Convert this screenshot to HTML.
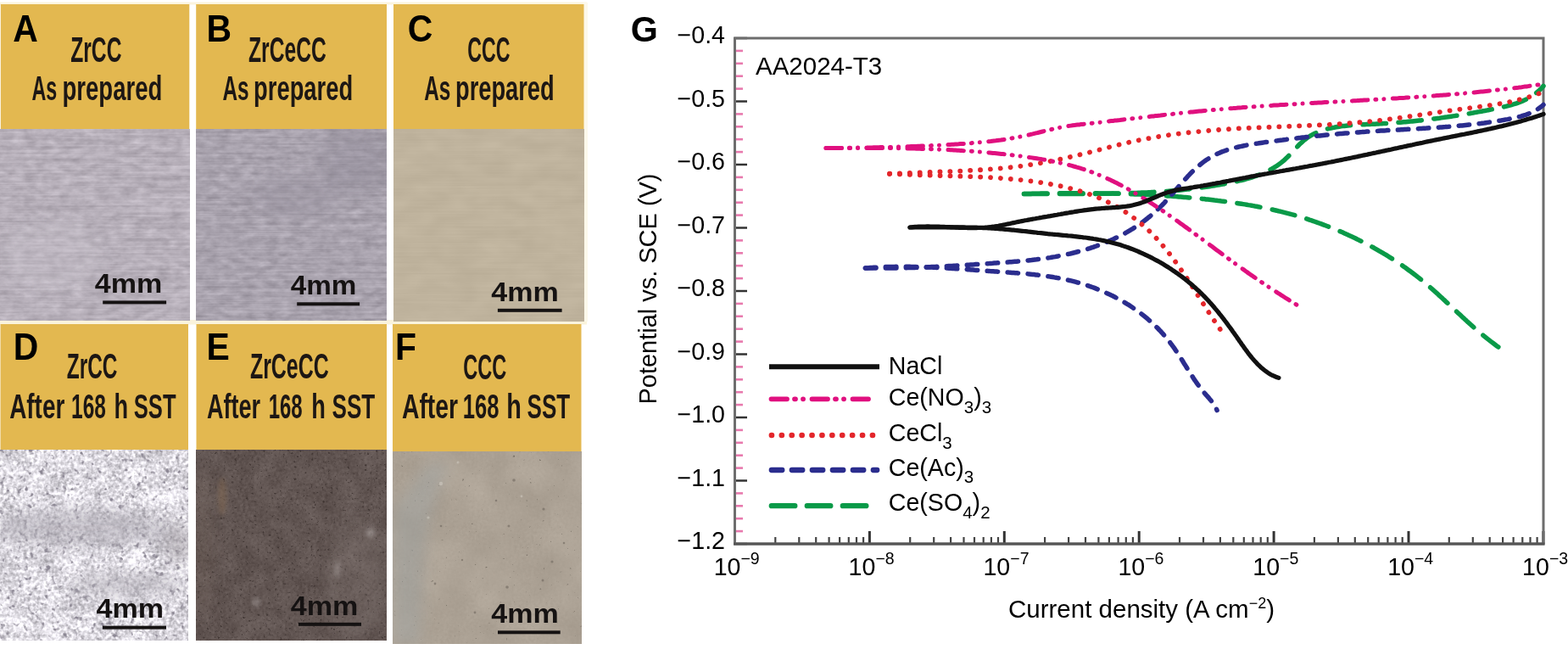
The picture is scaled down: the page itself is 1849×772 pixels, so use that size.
<!DOCTYPE html>
<html><head><meta charset="utf-8"><title>Figure</title>
<style>
html,body{margin:0;padding:0;background:#fff;}
body{width:1849px;height:772px;overflow:hidden;}
svg{display:block;}
.lbl{font-family:"Liberation Sans",Arial,sans-serif;font-weight:bold;font-size:44px;fill:#000;}
.hd{font-family:"Liberation Sans",Arial,sans-serif;font-weight:bold;font-size:41px;fill:#1d1714;stroke:#1d1714;stroke-width:0px;}
.hd1{font-size:42.5px;}
.mm{font-family:"Liberation Sans",Arial,sans-serif;font-weight:bold;font-size:32px;fill:#151212;}
.ax{font-family:"Liberation Sans",Arial,sans-serif;font-size:28.6px;fill:#000;}
.sup{font-size:19.5px;}
.ttl{font-family:"Liberation Sans",Arial,sans-serif;font-size:29.5px;fill:#000;}
.sup2{font-size:18px;}
.leg{font-family:"Liberation Sans",Arial,sans-serif;font-size:28.6px;fill:#000;}
.sub{font-size:20.5px;}
</style></head><body>
<svg width="1849" height="772" viewBox="0 0 1849 772">
<defs>
<filter id="blur8" x="-50%" y="-50%" width="200%" height="200%"><feGaussianBlur stdDeviation="8"/></filter><filter id="blur1" x="-50%" y="-50%" width="200%" height="200%"><feGaussianBlur stdDeviation="0.7"/></filter><filter id="blur3" x="-50%" y="-50%" width="200%" height="200%"><feGaussianBlur stdDeviation="2.5"/></filter>
<filter id="brushA" x="0" y="0" width="100%" height="100%" color-interpolation-filters="sRGB"><feTurbulence type="fractalNoise" baseFrequency="0.008 0.4" numOctaves="2" seed="3" result="n1"/><feTurbulence type="fractalNoise" baseFrequency="0.07 0.14" numOctaves="3" seed="4" result="n2"/><feComposite in="n1" in2="n2" operator="arithmetic" k1="0" k2="0.400" k3="0.600" k4="0"/><feColorMatrix type="matrix" values="0.300 0 0 0 0.564 0.300 0 0 0 0.536 0.300 0 0 0 0.575 0 0 0 0 1"/></filter>
<clipPath id="clipbrushA"><rect x="0.8" y="152.5" width="222.5" height="225.0"/></clipPath>
<filter id="brushB" x="0" y="0" width="100%" height="100%" color-interpolation-filters="sRGB"><feTurbulence type="fractalNoise" baseFrequency="0.008 0.4" numOctaves="2" seed="7" result="n1"/><feTurbulence type="fractalNoise" baseFrequency="0.07 0.14" numOctaves="3" seed="8" result="n2"/><feComposite in="n1" in2="n2" operator="arithmetic" k1="0" k2="0.400" k3="0.600" k4="0"/><feColorMatrix type="matrix" values="0.300 0 0 0 0.509 0.300 0 0 0 0.485 0.300 0 0 0 0.528 0 0 0 0 1"/></filter>
<clipPath id="clipbrushB"><rect x="231.2" y="152.5" width="224.8" height="225.0"/></clipPath>
<filter id="brushC" x="0" y="0" width="100%" height="100%" color-interpolation-filters="sRGB"><feTurbulence type="fractalNoise" baseFrequency="0.006 0.45" numOctaves="2" seed="11" result="n1"/><feTurbulence type="fractalNoise" baseFrequency="0.03 0.06" numOctaves="2" seed="12" result="n2"/><feComposite in="n1" in2="n2" operator="arithmetic" k1="0" k2="0.350" k3="0.650" k4="0"/><feColorMatrix type="matrix" values="0.080 0 0 0 0.709 0.080 0 0 0 0.662 0.080 0 0 0 0.576 0 0 0 0 1"/></filter>
<filter id="corrD" x="0" y="0" width="100%" height="100%" color-interpolation-filters="sRGB"><feTurbulence type="fractalNoise" baseFrequency="0.25" numOctaves="2" seed="5" result="n1"/><feTurbulence type="fractalNoise" baseFrequency="0.04" numOctaves="3" seed="6" result="n2"/><feComposite in="n1" in2="n2" operator="arithmetic" k1="0" k2="0.650" k3="0.350" k4="0"/><feColorMatrix type="matrix" values="0.850 0 0 0 0.453 0.850 0 0 0 0.442 0.850 0 0 0 0.469 0 0 0 0 1"/></filter>
<filter id="spcorrD" x="0" y="0" width="100%" height="100%" color-interpolation-filters="sRGB"><feTurbulence type="fractalNoise" baseFrequency="0.15" numOctaves="2" seed="21"/><feColorMatrix type="matrix" values="0 0 0 0 0.550 0 0 0 0 0.530 0 0 0 0 0.580 6.00 0 0 0 -3.72"/></filter>
<clipPath id="clipcorrD"><rect x="0.5" y="530.6" width="221.5" height="224.4"/></clipPath>
<filter id="corrE" x="0" y="0" width="100%" height="100%" color-interpolation-filters="sRGB"><feTurbulence type="fractalNoise" baseFrequency="0.3" numOctaves="2" seed="9" result="n1"/><feTurbulence type="fractalNoise" baseFrequency="0.04" numOctaves="3" seed="10" result="n2"/><feComposite in="n1" in2="n2" operator="arithmetic" k1="0" k2="0.500" k3="0.500" k4="0"/><feColorMatrix type="matrix" values="0.220 0 0 0 0.274 0.220 0 0 0 0.227 0.220 0 0 0 0.215 0 0 0 0 1"/></filter>
<filter id="spcorrE" x="0" y="0" width="100%" height="100%" color-interpolation-filters="sRGB"><feTurbulence type="fractalNoise" baseFrequency="0.3" numOctaves="2" seed="23"/><feColorMatrix type="matrix" values="0 0 0 0 0.250 0 0 0 0 0.210 0 0 0 0 0.200 6.00 0 0 0 -3.96"/></filter>
<clipPath id="clipcorrE"><rect x="231.5" y="530.6" width="224.5" height="224.4"/></clipPath>
<filter id="corrF" x="0" y="0" width="100%" height="100%" color-interpolation-filters="sRGB"><feTurbulence type="fractalNoise" baseFrequency="0.3" numOctaves="2" seed="13" result="n1"/><feTurbulence type="fractalNoise" baseFrequency="0.02" numOctaves="3" seed="14" result="n2"/><feComposite in="n1" in2="n2" operator="arithmetic" k1="0" k2="0.300" k3="0.700" k4="0"/><feColorMatrix type="matrix" values="0.120 0 0 0 0.615 0.120 0 0 0 0.575 0.120 0 0 0 0.524 0 0 0 0 1"/></filter>
<filter id="spcorrF" x="0" y="0" width="100%" height="100%" color-interpolation-filters="sRGB"><feTurbulence type="fractalNoise" baseFrequency="0.25" numOctaves="2" seed="25"/><feColorMatrix type="matrix" values="0 0 0 0 0.450 0 0 0 0 0.420 0 0 0 0 0.380 6.00 0 0 0 -4.56"/></filter>
<clipPath id="clipcorrF"><rect x="463.0" y="532.5" width="222.5" height="226.5"/></clipPath>
</defs>
<rect width="1849" height="772" fill="#fff"/>
<rect x="0" y="377" width="692" height="5.5" fill="#faf3dc"/>
<rect x="0" y="2.5" width="692" height="3" fill="#fbf4de"/>
<rect x="688" y="3" width="5" height="376" fill="#fcf8ea"/>
<rect x="0.8" y="5.0" width="222.5" height="147.5" fill="#e3b850"/>
<rect x="0.8" y="152.5" width="222.5" height="225.0" fill="#b6afb9" filter="url(#brushA)"/>
<g clip-path="url(#clipbrushA)"><g opacity="0.3" filter="url(#blur8)"><ellipse cx="60" cy="300" rx="60" ry="40" fill="#cdc8d0"/></g></g>
<text transform="translate(15.3,48.8) scale(0.93,1)" class="lbl">A</text>
<text x="83.2" y="72.6" class="hd hd1" textLength="60.3" lengthAdjust="spacingAndGlyphs">ZrCC</text>
<text y="118.3" class="hd"><tspan x="37.5" textLength="29.8" lengthAdjust="spacingAndGlyphs">As</tspan><tspan x="73.5" textLength="117.9" lengthAdjust="spacingAndGlyphs">prepared</tspan></text>
<text x="111.7" y="345.0" class="mm" textLength="79.5" lengthAdjust="spacingAndGlyphs">4mm</text>
<rect x="121.2" y="354.4" width="74.9" height="4" fill="#151212"/>
<rect x="231.2" y="5.0" width="224.8" height="147.5" fill="#e3b850"/>
<rect x="231.2" y="152.5" width="224.8" height="225.0" fill="#a8a2ad" filter="url(#brushB)"/>
<g clip-path="url(#clipbrushB)"><g opacity="0.35" filter="url(#blur8)"><ellipse cx="420" cy="190" rx="45" ry="40" fill="#8d8794"/><ellipse cx="350" cy="230" rx="50" ry="25" fill="#958f9c"/></g></g>
<text transform="translate(243.5,48.6) scale(0.93,1)" class="lbl">B</text>
<text x="293.0" y="72.9" class="hd hd1" textLength="91.8" lengthAdjust="spacingAndGlyphs">ZrCeCC</text>
<text y="118.3" class="hd"><tspan x="262.4" textLength="31.1" lengthAdjust="spacingAndGlyphs">As</tspan><tspan x="299.1" textLength="117.0" lengthAdjust="spacingAndGlyphs">prepared</tspan></text>
<text x="342.7" y="346.9" class="mm" textLength="77.6" lengthAdjust="spacingAndGlyphs">4mm</text>
<rect x="350.2" y="356.3" width="73.9" height="4" fill="#151212"/>
<rect x="464.0" y="5.0" width="224.5" height="147.5" fill="#e3b850"/>
<rect x="464.0" y="152.5" width="224.5" height="226.0" fill="#bfb39d" filter="url(#brushC)"/>
<text transform="translate(480.7,48.6) scale(0.93,1)" class="lbl">C</text>
<text x="551.2" y="72.9" class="hd hd1" textLength="50.4" lengthAdjust="spacingAndGlyphs">CCC</text>
<text y="118.3" class="hd"><tspan x="500.2" textLength="31.1" lengthAdjust="spacingAndGlyphs">As</tspan><tspan x="537.0" textLength="116.7" lengthAdjust="spacingAndGlyphs">prepared</tspan></text>
<text x="579.3" y="354.5" class="mm" textLength="79.5" lengthAdjust="spacingAndGlyphs">4mm</text>
<rect x="586.9" y="363.8" width="75.7" height="4" fill="#151212"/>
<rect x="0.5" y="382.0" width="221.5" height="148.6" fill="#e3b850"/>
<rect x="0.5" y="530.6" width="221.5" height="224.4" fill="#e0dde4" filter="url(#corrD)"/>
<rect x="0.5" y="530.6" width="221.5" height="224.4" fill="#000" filter="url(#spcorrD)"/>
<g clip-path="url(#clipcorrD)"><g opacity="0.55" filter="url(#blur8)"><ellipse cx="95" cy="622" rx="110" ry="22" fill="#a9a5ae"/><ellipse cx="210" cy="640" rx="16" ry="25" fill="#9f9a9f"/><ellipse cx="150" cy="690" rx="70" ry="14" fill="#b4b0b8"/></g></g>
<text transform="translate(15.8,423.7) scale(0.93,1)" class="lbl">D</text>
<text x="78.7" y="446.4" class="hd hd1" textLength="59.8" lengthAdjust="spacingAndGlyphs">ZrCC</text>
<text y="492.5" class="hd"><tspan x="11.2" textLength="65.1" lengthAdjust="spacingAndGlyphs">After</tspan><tspan x="84.0" textLength="40.9" lengthAdjust="spacingAndGlyphs">168</tspan><tspan x="134.5" textLength="16.6" lengthAdjust="spacingAndGlyphs">h</tspan><tspan x="157.8" textLength="49.7" lengthAdjust="spacingAndGlyphs">SST</tspan></text>
<text x="113.6" y="728.3" class="mm" textLength="79.5" lengthAdjust="spacingAndGlyphs">4mm</text>
<rect x="121.0" y="737.6" width="75.0" height="4" fill="#151212"/>
<rect x="231.5" y="382.0" width="224.5" height="148.6" fill="#e3b850"/>
<rect x="231.5" y="530.6" width="224.5" height="224.4" fill="#625653" filter="url(#corrE)"/>
<rect x="231.5" y="530.6" width="224.5" height="224.4" fill="#000" filter="url(#spcorrE)"/>
<g clip-path="url(#clipcorrE)"><g opacity="0.35" filter="url(#blur3)"><circle cx="437" cy="628" r="5" fill="#e8e4e4"/><circle cx="302" cy="710" r="5" fill="#d8d2d2"/><ellipse cx="398" cy="672" rx="3" ry="10" fill="#d8d2d2"/><ellipse cx="262" cy="585" rx="5" ry="22" fill="#907050"/></g><g opacity="0.25" filter="url(#blur8)"><ellipse cx="420" cy="680" rx="35" ry="70" fill="#8a807c"/><ellipse cx="240" cy="640" rx="10" ry="90" fill="#7a6a60"/></g></g>
<text transform="translate(243.5,423.7) scale(0.93,1)" class="lbl">E</text>
<text x="294.9" y="446.4" class="hd hd1" textLength="92.9" lengthAdjust="spacingAndGlyphs">ZrCeCC</text>
<text y="492.5" class="hd"><tspan x="243.9" textLength="63.2" lengthAdjust="spacingAndGlyphs">After</tspan><tspan x="316.7" textLength="40.0" lengthAdjust="spacingAndGlyphs">168</tspan><tspan x="367.3" textLength="16.6" lengthAdjust="spacingAndGlyphs">h</tspan><tspan x="391.5" textLength="50.7" lengthAdjust="spacingAndGlyphs">SST</tspan></text>
<text x="342.7" y="724.5" class="mm" textLength="79.5" lengthAdjust="spacingAndGlyphs">4mm</text>
<rect x="352.0" y="733.8" width="74.0" height="4" fill="#151212"/>
<rect x="463.0" y="382.0" width="222.5" height="150.5" fill="#e3b850"/>
<rect x="463.0" y="532.5" width="222.5" height="226.5" fill="#aca295" filter="url(#corrF)"/>
<rect x="463.0" y="532.5" width="222.5" height="226.5" fill="#000" filter="url(#spcorrF)"/>
<g clip-path="url(#clipcorrF)"><g opacity="0.45" filter="url(#blur8)"><path d="M463 760 L463 600 Q480 580 505 545 L530 545 Q505 600 500 660 L495 760Z" fill="#9ea3a3"/></g><g fill="#6b625a" opacity="0.55" filter="url(#blur1)"><circle cx="606" cy="566" r="1.8"/><circle cx="641" cy="600" r="1.6"/><circle cx="600" cy="620" r="1.5"/><circle cx="651" cy="662" r="1.6"/><circle cx="513" cy="688" r="1.4"/><circle cx="598" cy="692" r="1.8"/><circle cx="640" cy="684" r="1.5"/><circle cx="560" cy="722" r="1.4"/><circle cx="520" cy="620" r="1.3"/><circle cx="585" cy="590" r="1.3"/><circle cx="665" cy="640" r="1.3"/><circle cx="545" cy="660" r="1.2"/></g><g fill="#e8e4dc" opacity="0.35" filter="url(#blur1)"><circle cx="520" cy="570" r="2.2"/><circle cx="505" cy="610" r="1.6"/><circle cx="540" cy="545" r="1.5"/><circle cx="615" cy="585" r="1.4"/></g></g>
<text transform="translate(466.1,423.7) scale(0.93,1)" class="lbl">F</text>
<text x="546.3" y="447.0" class="hd hd1" textLength="51.1" lengthAdjust="spacingAndGlyphs">CCC</text>
<text y="492.5" class="hd"><tspan x="473.9" textLength="66.2" lengthAdjust="spacingAndGlyphs">After</tspan><tspan x="545.8" textLength="42.8" lengthAdjust="spacingAndGlyphs">168</tspan><tspan x="597.3" textLength="17.6" lengthAdjust="spacingAndGlyphs">h</tspan><tspan x="621.6" textLength="50.6" lengthAdjust="spacingAndGlyphs">SST</tspan></text>
<text x="579.3" y="734.0" class="mm" textLength="79.5" lengthAdjust="spacingAndGlyphs">4mm</text>
<rect x="587.0" y="743.3" width="73.7" height="4" fill="#151212"/>
<line x1="866" y1="59.9" x2="876" y2="59.9" stroke="#e87aae" stroke-width="2.6"/>
<line x1="866" y1="74.8" x2="876" y2="74.8" stroke="#e87aae" stroke-width="2.6"/>
<line x1="866" y1="89.7" x2="876" y2="89.7" stroke="#e87aae" stroke-width="2.6"/>
<line x1="866" y1="104.6" x2="876" y2="104.6" stroke="#e87aae" stroke-width="2.6"/>
<line x1="866" y1="134.4" x2="876" y2="134.4" stroke="#e87aae" stroke-width="2.6"/>
<line x1="866" y1="149.3" x2="876" y2="149.3" stroke="#e87aae" stroke-width="2.6"/>
<line x1="866" y1="164.2" x2="876" y2="164.2" stroke="#e87aae" stroke-width="2.6"/>
<line x1="866" y1="179.1" x2="876" y2="179.1" stroke="#e87aae" stroke-width="2.6"/>
<line x1="866" y1="208.9" x2="876" y2="208.9" stroke="#e87aae" stroke-width="2.6"/>
<line x1="866" y1="223.8" x2="876" y2="223.8" stroke="#e87aae" stroke-width="2.6"/>
<line x1="866" y1="238.7" x2="876" y2="238.7" stroke="#e87aae" stroke-width="2.6"/>
<line x1="866" y1="253.6" x2="876" y2="253.6" stroke="#e87aae" stroke-width="2.6"/>
<line x1="866" y1="283.4" x2="876" y2="283.4" stroke="#e87aae" stroke-width="2.6"/>
<line x1="866" y1="298.3" x2="876" y2="298.3" stroke="#e87aae" stroke-width="2.6"/>
<line x1="866" y1="313.2" x2="876" y2="313.2" stroke="#e87aae" stroke-width="2.6"/>
<line x1="866" y1="328.1" x2="876" y2="328.1" stroke="#e87aae" stroke-width="2.6"/>
<line x1="866" y1="357.9" x2="876" y2="357.9" stroke="#e87aae" stroke-width="2.6"/>
<line x1="866" y1="372.8" x2="876" y2="372.8" stroke="#e87aae" stroke-width="2.6"/>
<line x1="866" y1="387.7" x2="876" y2="387.7" stroke="#e87aae" stroke-width="2.6"/>
<line x1="866" y1="402.6" x2="876" y2="402.6" stroke="#e87aae" stroke-width="2.6"/>
<line x1="866" y1="432.4" x2="876" y2="432.4" stroke="#e87aae" stroke-width="2.6"/>
<line x1="866" y1="447.3" x2="876" y2="447.3" stroke="#e87aae" stroke-width="2.6"/>
<line x1="866" y1="462.2" x2="876" y2="462.2" stroke="#e87aae" stroke-width="2.6"/>
<line x1="866" y1="477.1" x2="876" y2="477.1" stroke="#e87aae" stroke-width="2.6"/>
<line x1="866" y1="506.9" x2="876" y2="506.9" stroke="#e87aae" stroke-width="2.6"/>
<line x1="866" y1="521.8" x2="876" y2="521.8" stroke="#e87aae" stroke-width="2.6"/>
<line x1="866" y1="536.7" x2="876" y2="536.7" stroke="#e87aae" stroke-width="2.6"/>
<line x1="866" y1="551.6" x2="876" y2="551.6" stroke="#e87aae" stroke-width="2.6"/>
<line x1="866" y1="581.4" x2="876" y2="581.4" stroke="#e87aae" stroke-width="2.6"/>
<line x1="866" y1="596.3" x2="876" y2="596.3" stroke="#e87aae" stroke-width="2.6"/>
<line x1="866" y1="611.2" x2="876" y2="611.2" stroke="#e87aae" stroke-width="2.6"/>
<line x1="866" y1="626.1" x2="876" y2="626.1" stroke="#e87aae" stroke-width="2.6"/>
<line x1="866" y1="45.0" x2="881" y2="45.0" stroke="#333" stroke-width="2.5"/>
<line x1="866" y1="119.5" x2="881" y2="119.5" stroke="#333" stroke-width="2.5"/>
<line x1="866" y1="194.0" x2="881" y2="194.0" stroke="#333" stroke-width="2.5"/>
<line x1="866" y1="268.5" x2="881" y2="268.5" stroke="#333" stroke-width="2.5"/>
<line x1="866" y1="343.0" x2="881" y2="343.0" stroke="#333" stroke-width="2.5"/>
<line x1="866" y1="417.5" x2="881" y2="417.5" stroke="#333" stroke-width="2.5"/>
<line x1="866" y1="492.0" x2="881" y2="492.0" stroke="#333" stroke-width="2.5"/>
<line x1="866" y1="566.5" x2="881" y2="566.5" stroke="#333" stroke-width="2.5"/>
<line x1="866" y1="641.0" x2="881" y2="641.0" stroke="#333" stroke-width="2.5"/>
<line x1="914.3" y1="633" x2="914.3" y2="641" stroke="#444" stroke-width="2.2"/>
<line x1="942.3" y1="633" x2="942.3" y2="641" stroke="#444" stroke-width="2.2"/>
<line x1="962.2" y1="633" x2="962.2" y2="641" stroke="#444" stroke-width="2.2"/>
<line x1="977.6" y1="633" x2="977.6" y2="641" stroke="#444" stroke-width="2.2"/>
<line x1="990.1" y1="633" x2="990.1" y2="641" stroke="#444" stroke-width="2.2"/>
<line x1="1000.8" y1="633" x2="1000.8" y2="641" stroke="#444" stroke-width="2.2"/>
<line x1="1010.0" y1="633" x2="1010.0" y2="641" stroke="#444" stroke-width="2.2"/>
<line x1="1018.1" y1="633" x2="1018.1" y2="641" stroke="#444" stroke-width="2.2"/>
<line x1="1073.2" y1="633" x2="1073.2" y2="641" stroke="#444" stroke-width="2.2"/>
<line x1="1101.2" y1="633" x2="1101.2" y2="641" stroke="#444" stroke-width="2.2"/>
<line x1="1121.1" y1="633" x2="1121.1" y2="641" stroke="#444" stroke-width="2.2"/>
<line x1="1136.5" y1="633" x2="1136.5" y2="641" stroke="#444" stroke-width="2.2"/>
<line x1="1149.0" y1="633" x2="1149.0" y2="641" stroke="#444" stroke-width="2.2"/>
<line x1="1159.7" y1="633" x2="1159.7" y2="641" stroke="#444" stroke-width="2.2"/>
<line x1="1168.9" y1="633" x2="1168.9" y2="641" stroke="#444" stroke-width="2.2"/>
<line x1="1177.0" y1="633" x2="1177.0" y2="641" stroke="#444" stroke-width="2.2"/>
<line x1="1232.1" y1="633" x2="1232.1" y2="641" stroke="#444" stroke-width="2.2"/>
<line x1="1260.1" y1="633" x2="1260.1" y2="641" stroke="#444" stroke-width="2.2"/>
<line x1="1280.0" y1="633" x2="1280.0" y2="641" stroke="#444" stroke-width="2.2"/>
<line x1="1295.4" y1="633" x2="1295.4" y2="641" stroke="#444" stroke-width="2.2"/>
<line x1="1307.9" y1="633" x2="1307.9" y2="641" stroke="#444" stroke-width="2.2"/>
<line x1="1318.6" y1="633" x2="1318.6" y2="641" stroke="#444" stroke-width="2.2"/>
<line x1="1327.8" y1="633" x2="1327.8" y2="641" stroke="#444" stroke-width="2.2"/>
<line x1="1335.9" y1="633" x2="1335.9" y2="641" stroke="#444" stroke-width="2.2"/>
<line x1="1391.0" y1="633" x2="1391.0" y2="641" stroke="#444" stroke-width="2.2"/>
<line x1="1419.0" y1="633" x2="1419.0" y2="641" stroke="#444" stroke-width="2.2"/>
<line x1="1438.9" y1="633" x2="1438.9" y2="641" stroke="#444" stroke-width="2.2"/>
<line x1="1454.3" y1="633" x2="1454.3" y2="641" stroke="#444" stroke-width="2.2"/>
<line x1="1466.8" y1="633" x2="1466.8" y2="641" stroke="#444" stroke-width="2.2"/>
<line x1="1477.5" y1="633" x2="1477.5" y2="641" stroke="#444" stroke-width="2.2"/>
<line x1="1486.7" y1="633" x2="1486.7" y2="641" stroke="#444" stroke-width="2.2"/>
<line x1="1494.8" y1="633" x2="1494.8" y2="641" stroke="#444" stroke-width="2.2"/>
<line x1="1549.9" y1="633" x2="1549.9" y2="641" stroke="#444" stroke-width="2.2"/>
<line x1="1577.9" y1="633" x2="1577.9" y2="641" stroke="#444" stroke-width="2.2"/>
<line x1="1597.8" y1="633" x2="1597.8" y2="641" stroke="#444" stroke-width="2.2"/>
<line x1="1613.2" y1="633" x2="1613.2" y2="641" stroke="#444" stroke-width="2.2"/>
<line x1="1625.7" y1="633" x2="1625.7" y2="641" stroke="#444" stroke-width="2.2"/>
<line x1="1636.4" y1="633" x2="1636.4" y2="641" stroke="#444" stroke-width="2.2"/>
<line x1="1645.6" y1="633" x2="1645.6" y2="641" stroke="#444" stroke-width="2.2"/>
<line x1="1653.7" y1="633" x2="1653.7" y2="641" stroke="#444" stroke-width="2.2"/>
<line x1="1708.8" y1="633" x2="1708.8" y2="641" stroke="#444" stroke-width="2.2"/>
<line x1="1736.8" y1="633" x2="1736.8" y2="641" stroke="#444" stroke-width="2.2"/>
<line x1="1756.7" y1="633" x2="1756.7" y2="641" stroke="#444" stroke-width="2.2"/>
<line x1="1772.1" y1="633" x2="1772.1" y2="641" stroke="#444" stroke-width="2.2"/>
<line x1="1784.6" y1="633" x2="1784.6" y2="641" stroke="#444" stroke-width="2.2"/>
<line x1="1795.3" y1="633" x2="1795.3" y2="641" stroke="#444" stroke-width="2.2"/>
<line x1="1804.5" y1="633" x2="1804.5" y2="641" stroke="#444" stroke-width="2.2"/>
<line x1="1812.6" y1="633" x2="1812.6" y2="641" stroke="#444" stroke-width="2.2"/>
<line x1="866.5" y1="626" x2="866.5" y2="641" stroke="#333" stroke-width="3"/>
<line x1="1025.4" y1="626" x2="1025.4" y2="641" stroke="#333" stroke-width="3"/>
<line x1="1184.3" y1="626" x2="1184.3" y2="641" stroke="#333" stroke-width="3"/>
<line x1="1343.2" y1="626" x2="1343.2" y2="641" stroke="#333" stroke-width="3"/>
<line x1="1502.1" y1="626" x2="1502.1" y2="641" stroke="#333" stroke-width="3"/>
<line x1="1661.0" y1="626" x2="1661.0" y2="641" stroke="#333" stroke-width="3"/>
<line x1="1819.9" y1="626" x2="1819.9" y2="641" stroke="#333" stroke-width="3"/>
<rect x="866.5" y="45.0" width="953.5" height="596.0" fill="none" stroke="#6d6d6d" stroke-width="3"/>
<line x1="865.0" y1="641.0" x2="1821.5" y2="641.0" stroke="#555" stroke-width="3"/>
<text x="855" y="51.0" text-anchor="end" class="ax">−0.4</text>
<text x="855" y="125.5" text-anchor="end" class="ax">−0.5</text>
<text x="855" y="200.0" text-anchor="end" class="ax">−0.6</text>
<text x="855" y="274.5" text-anchor="end" class="ax">−0.7</text>
<text x="855" y="349.0" text-anchor="end" class="ax">−0.8</text>
<text x="855" y="423.5" text-anchor="end" class="ax">−0.9</text>
<text x="855" y="498.0" text-anchor="end" class="ax">−1.0</text>
<text x="855" y="572.5" text-anchor="end" class="ax">−1.1</text>
<text x="855" y="647.0" text-anchor="end" class="ax">−1.2</text>
<text x="868.7" y="678" text-anchor="middle" class="ax">10<tspan class="sup" dy="-13">−9</tspan></text>
<text x="1027.6" y="678" text-anchor="middle" class="ax">10<tspan class="sup" dy="-13">−8</tspan></text>
<text x="1186.5" y="678" text-anchor="middle" class="ax">10<tspan class="sup" dy="-13">−7</tspan></text>
<text x="1345.4" y="678" text-anchor="middle" class="ax">10<tspan class="sup" dy="-13">−6</tspan></text>
<text x="1504.3" y="678" text-anchor="middle" class="ax">10<tspan class="sup" dy="-13">−5</tspan></text>
<text x="1663.2" y="678" text-anchor="middle" class="ax">10<tspan class="sup" dy="-13">−4</tspan></text>
<text x="1822.1" y="678" text-anchor="middle" class="ax">10<tspan class="sup" dy="-13">−3</tspan></text>
<text x="1189" y="727.7" class="ttl">Current density (A cm<tspan class="sup2" dy="-11">−2</tspan><tspan dy="11">)</tspan></text>
<text transform="translate(774,476.5) rotate(-90)" x="0" y="0" class="ttl" textLength="272" lengthAdjust="spacingAndGlyphs">Potential vs. SCE (V)</text>
<text transform="translate(743.8,49.2) scale(0.96,1)" class="lbl" style="font-size:43px">G</text>
<text x="891" y="88" class="ttl">AA2024-T3</text>
<path d="M1207.5 228.5 L1209.5 228.5 L1211.5 228.5 L1213.5 228.5 L1215.6 228.5 L1217.6 228.4 L1219.6 228.4 L1221.6 228.4 L1223.6 228.4 L1225.6 228.4 L1227.6 228.4 L1229.6 228.4 L1231.6 228.4 L1233.7 228.4 L1235.7 228.4 L1237.7 228.4 L1239.7 228.4 L1241.7 228.4 L1243.7 228.4 L1245.7 228.4 L1247.7 228.4 L1249.7 228.4 L1251.8 228.4 L1253.8 228.4 L1255.8 228.4 L1257.8 228.4 L1259.8 228.4 L1261.8 228.4 L1263.8 228.4 L1265.8 228.4 L1267.8 228.4 L1269.8 228.4 L1271.9 228.4 L1273.9 228.4 L1275.9 228.4 L1277.9 228.4 L1279.9 228.4 L1281.9 228.4 L1283.9 228.4 L1285.9 228.4 L1287.9 228.4 L1290.0 228.4 L1292.0 228.4 L1294.0 228.3 L1296.0 228.3 L1298.0 228.3 L1300.0 228.3 L1302.0 228.3 L1304.0 228.2 L1306.0 228.2 L1308.0 228.2 L1310.1 228.2 L1312.1 228.1 L1314.1 228.1 L1316.1 228.1 L1318.1 228.0 L1320.1 228.0 L1322.1 227.9 L1324.1 227.9 L1326.1 227.8 L1328.2 227.8 L1330.2 227.7 L1332.2 227.7 L1334.2 227.6 L1336.2 227.5 L1338.2 227.5 L1340.2 227.4 L1342.2 227.3 L1344.2 227.2 L1346.2 227.1 L1348.2 227.1 L1350.3 227.0 L1352.3 226.9 L1354.3 226.8 L1356.3 226.7 L1358.3 226.5 L1360.3 226.4 L1362.3 226.3 L1364.3 226.2 L1366.3 226.1 L1368.3 225.9 L1370.3 225.8 L1372.3 225.7 L1374.3 225.5 L1376.3 225.4 L1378.3 225.2 L1380.4 225.0 L1382.4 224.9 L1384.4 224.7 L1386.4 224.5 L1388.4 224.3 L1390.4 224.2 L1392.4 224.0 L1394.4 223.8 L1396.4 223.6 L1398.4 223.3 L1400.4 223.1 L1402.4 222.9 L1404.4 222.7 L1406.4 222.4 L1408.4 222.2 L1410.3 221.9 L1412.3 221.7 L1414.3 221.4 L1416.3 221.2 L1418.3 220.9 L1420.3 220.6 L1422.3 220.3 L1424.3 220.0 L1426.3 219.7 L1428.3 219.4 L1430.3 219.1 L1432.2 218.8 L1434.2 218.4 L1436.2 218.1 L1438.2 217.7 L1440.2 217.4 L1442.1 217.0 L1444.1 216.7 L1446.1 216.3 L1448.1 215.9 L1450.0 215.5 L1452.0 215.1 L1454.0 214.7 L1455.9 214.3 L1457.9 213.8 L1459.9 213.4 L1461.8 212.9 L1463.8 212.5 L1465.7 212.0 L1467.7 211.5 L1469.6 210.9 L1471.6 210.4 L1473.5 209.8 L1475.4 209.3 L1477.3 208.7 L1479.2 208.0 L1481.1 207.4 L1483.0 206.7 L1484.9 206.0 L1486.8 205.2 L1488.6 204.5 L1490.5 203.7 L1492.3 202.8 L1494.1 202.0 L1495.9 201.1 L1497.7 200.2 L1499.5 199.2 L1501.2 198.2 L1502.9 197.1 L1504.6 196.1 L1506.3 195.0 L1508.0 193.8 L1509.6 192.6 L1511.2 191.4 L1512.7 190.1 L1514.3 188.8 L1515.7 187.5 L1517.2 186.1 L1518.6 184.7 L1520.1 183.2 L1521.5 181.8 L1522.8 180.3 L1524.2 178.9 L1525.6 177.4 L1526.9 175.9 L1528.3 174.4 L1529.7 173.0 L1531.1 171.5 L1532.5 170.1 L1534.0 168.7 L1535.4 167.4 L1536.9 166.0 L1538.5 164.7 L1540.1 163.5 L1541.7 162.3 L1543.4 161.2 L1545.1 160.1 L1546.8 159.1 L1548.6 158.2 L1550.4 157.3 L1552.2 156.5 L1554.1 155.7 L1556.0 154.9 L1557.8 154.3 L1559.7 153.6 L1561.7 153.0 L1563.6 152.4 L1565.5 151.9 L1567.5 151.4 L1569.4 151.0 L1571.4 150.5 L1573.4 150.2 L1575.4 149.8 L1577.3 149.5 L1579.3 149.2 L1581.3 148.9 L1583.3 148.6 L1585.3 148.4 L1587.3 148.2 L1589.3 148.0 L1591.3 147.8 L1593.3 147.6 L1595.3 147.5 L1597.3 147.3 L1599.3 147.2 L1601.3 147.1 L1603.3 147.0 L1605.4 146.9 L1607.4 146.8 L1609.4 146.7 L1611.4 146.6 L1613.4 146.5 L1615.4 146.4 L1617.4 146.3 L1619.4 146.3 L1621.4 146.2 L1623.4 146.1 L1625.4 146.0 L1627.4 145.8 L1629.5 145.7 L1631.5 145.6 L1633.5 145.5 L1635.5 145.4 L1637.5 145.2 L1639.5 145.1 L1641.5 145.0 L1643.5 144.8 L1645.5 144.7 L1647.5 144.5 L1649.5 144.3 L1651.5 144.2 L1653.5 144.0 L1655.5 143.8 L1657.5 143.7 L1659.5 143.5 L1661.5 143.3 L1663.5 143.1 L1665.5 142.9 L1667.5 142.7 L1669.5 142.5 L1671.5 142.3 L1673.5 142.1 L1675.5 141.9 L1677.5 141.6 L1679.5 141.4 L1681.5 141.2 L1683.5 140.9 L1685.5 140.7 L1687.5 140.5 L1689.5 140.2 L1691.5 140.0 L1693.5 139.7 L1695.5 139.4 L1697.5 139.2 L1699.5 138.9 L1701.5 138.6 L1703.5 138.3 L1705.5 138.1 L1707.4 137.8 L1709.4 137.5 L1711.4 137.2 L1713.4 136.9 L1715.4 136.6 L1717.4 136.3 L1719.4 136.0 L1721.4 135.6 L1723.3 135.3 L1725.3 135.0 L1727.3 134.7 L1729.3 134.3 L1731.3 134.0 L1733.3 133.7 L1735.2 133.3 L1737.2 133.0 L1739.2 132.6 L1741.2 132.3 L1743.2 131.9 L1745.1 131.6 L1747.1 131.2 L1749.1 130.8 L1751.1 130.5 L1753.0 130.1 L1755.0 129.7 L1757.0 129.3 L1759.0 128.9 L1760.9 128.6 L1762.9 128.2 L1764.9 127.8 L1766.9 127.4 L1768.8 126.9 L1770.8 126.5 L1772.7 126.1 L1774.7 125.6 L1776.7 125.1 L1778.6 124.6 L1780.5 124.1 L1782.5 123.6 L1784.4 123.0 L1786.3 122.4 L1788.2 121.8 L1790.1 121.1 L1792.0 120.4 L1793.9 119.7 L1795.7 118.9 L1797.6 118.1 L1799.4 117.2 L1801.2 116.3 L1803.0 115.3 L1804.7 114.3 L1806.4 113.3 L1808.1 112.2 L1809.7 111.0 L1811.3 109.8 L1812.9 108.5 L1814.4 107.2 L1815.9 105.8 L1817.3 104.4 L1818.7 102.9 L1820.0 101.4" fill="none" stroke="#0a9a48" stroke-width="5.5" stroke-linecap="round" stroke-dasharray="27.5 14.5"/>
<path d="M1207.5 228.6 L1209.5 228.5 L1211.5 228.5 L1213.5 228.4 L1215.5 228.4 L1217.5 228.3 L1219.6 228.3 L1221.6 228.3 L1223.6 228.2 L1225.6 228.2 L1227.6 228.1 L1229.6 228.1 L1231.6 228.1 L1233.6 228.0 L1235.6 228.0 L1237.6 228.0 L1239.6 228.0 L1241.6 227.9 L1243.7 227.9 L1245.7 227.9 L1247.7 227.9 L1249.7 227.8 L1251.7 227.8 L1253.7 227.8 L1255.7 227.8 L1257.7 227.8 L1259.7 227.8 L1261.7 227.7 L1263.7 227.7 L1265.7 227.7 L1267.8 227.7 L1269.8 227.7 L1271.8 227.7 L1273.8 227.7 L1275.8 227.7 L1277.8 227.7 L1279.8 227.7 L1281.8 227.7 L1283.8 227.8 L1285.8 227.8 L1287.8 227.8 L1289.9 227.8 L1291.9 227.8 L1293.9 227.8 L1295.9 227.9 L1297.9 227.9 L1299.9 227.9 L1301.9 227.9 L1303.9 228.0 L1305.9 228.0 L1307.9 228.0 L1309.9 228.1 L1311.9 228.1 L1314.0 228.2 L1316.0 228.2 L1318.0 228.3 L1320.0 228.3 L1322.0 228.4 L1324.0 228.4 L1326.0 228.5 L1328.0 228.5 L1330.0 228.6 L1332.0 228.7 L1334.0 228.7 L1336.0 228.8 L1338.1 228.9 L1340.1 229.0 L1342.1 229.1 L1344.1 229.1 L1346.1 229.2 L1348.1 229.3 L1350.1 229.4 L1352.1 229.5 L1354.1 229.6 L1356.1 229.7 L1358.1 229.8 L1360.1 229.9 L1362.1 230.0 L1364.1 230.1 L1366.1 230.2 L1368.1 230.4 L1370.2 230.5 L1372.2 230.6 L1374.2 230.7 L1376.2 230.9 L1378.2 231.0 L1380.2 231.1 L1382.2 231.3 L1384.2 231.4 L1386.2 231.6 L1388.2 231.7 L1390.2 231.9 L1392.2 232.0 L1394.2 232.2 L1396.2 232.4 L1398.2 232.5 L1400.2 232.7 L1402.2 232.9 L1404.2 233.1 L1406.2 233.3 L1408.2 233.4 L1410.2 233.6 L1412.2 233.8 L1414.2 234.0 L1416.2 234.2 L1418.2 234.4 L1420.2 234.6 L1422.2 234.9 L1424.2 235.1 L1426.2 235.3 L1428.2 235.5 L1430.2 235.7 L1432.2 236.0 L1434.2 236.2 L1436.2 236.5 L1438.2 236.7 L1440.1 237.0 L1442.1 237.2 L1444.1 237.5 L1446.1 237.7 L1448.1 238.0 L1450.1 238.3 L1452.1 238.5 L1454.1 238.8 L1456.1 239.1 L1458.1 239.4 L1460.1 239.7 L1462.0 240.0 L1464.0 240.3 L1466.0 240.6 L1468.0 240.9 L1470.0 241.2 L1472.0 241.6 L1473.9 241.9 L1475.9 242.2 L1477.9 242.6 L1479.9 243.0 L1481.8 243.3 L1483.8 243.7 L1485.8 244.1 L1487.8 244.4 L1489.7 244.8 L1491.7 245.2 L1493.7 245.6 L1495.6 246.0 L1497.6 246.5 L1499.6 246.9 L1501.5 247.3 L1503.5 247.8 L1505.4 248.2 L1507.4 248.7 L1509.4 249.1 L1511.3 249.6 L1513.3 250.1 L1515.2 250.6 L1517.1 251.1 L1519.1 251.6 L1521.0 252.1 L1523.0 252.7 L1524.9 253.2 L1526.8 253.7 L1528.8 254.3 L1530.7 254.9 L1532.6 255.4 L1534.5 256.0 L1536.5 256.6 L1538.4 257.2 L1540.3 257.8 L1542.2 258.4 L1544.1 259.1 L1546.0 259.7 L1547.9 260.3 L1549.8 261.0 L1551.7 261.7 L1553.6 262.3 L1555.5 263.0 L1557.4 263.7 L1559.3 264.4 L1561.2 265.1 L1563.0 265.8 L1564.9 266.5 L1566.8 267.2 L1568.7 268.0 L1570.5 268.7 L1572.4 269.5 L1574.3 270.2 L1576.1 271.0 L1578.0 271.7 L1579.8 272.5 L1581.7 273.3 L1583.5 274.1 L1585.3 274.9 L1587.2 275.7 L1589.0 276.6 L1590.8 277.4 L1592.7 278.2 L1594.5 279.1 L1596.3 279.9 L1598.1 280.8 L1599.9 281.7 L1601.7 282.6 L1603.5 283.5 L1605.3 284.3 L1607.1 285.3 L1608.9 286.2 L1610.7 287.1 L1612.5 288.0 L1614.2 289.0 L1616.0 289.9 L1617.8 290.9 L1619.5 291.8 L1621.3 292.8 L1623.1 293.8 L1624.8 294.8 L1626.5 295.8 L1628.3 296.8 L1630.0 297.8 L1631.7 298.9 L1633.5 299.9 L1635.2 300.9 L1636.9 302.0 L1638.6 303.1 L1640.3 304.1 L1642.0 305.2 L1643.7 306.3 L1645.3 307.4 L1647.0 308.5 L1648.7 309.6 L1650.4 310.7 L1652.0 311.9 L1653.7 313.0 L1655.3 314.2 L1657.0 315.3 L1658.6 316.5 L1660.2 317.7 L1661.8 318.9 L1663.5 320.0 L1665.1 321.3 L1666.7 322.5 L1668.3 323.7 L1669.8 324.9 L1671.4 326.2 L1673.0 327.4 L1674.6 328.7 L1676.1 329.9 L1677.7 331.2 L1679.2 332.5 L1680.8 333.8 L1682.3 335.1 L1683.8 336.4 L1685.3 337.7 L1686.9 339.0 L1688.4 340.3 L1689.9 341.7 L1691.4 343.0 L1692.9 344.3 L1694.4 345.7 L1695.9 347.0 L1697.3 348.4 L1698.8 349.7 L1700.3 351.1 L1701.8 352.5 L1703.3 353.8 L1704.7 355.2 L1706.2 356.6 L1707.7 357.9 L1709.1 359.3 L1710.6 360.7 L1712.1 362.0 L1713.5 363.4 L1715.0 364.8 L1716.5 366.2 L1717.9 367.5 L1719.4 368.9 L1720.9 370.3 L1722.3 371.6 L1723.8 373.0 L1725.3 374.4 L1726.8 375.7 L1728.2 377.1 L1729.7 378.5 L1731.2 379.8 L1732.7 381.2 L1734.2 382.5 L1735.7 383.8 L1737.2 385.2 L1738.7 386.5 L1740.2 387.8 L1741.7 389.1 L1743.3 390.4 L1744.8 391.7 L1746.3 393.0 L1747.9 394.3 L1749.4 395.6 L1751.0 396.9 L1752.5 398.1 L1754.1 399.4 L1755.7 400.6 L1757.3 401.9 L1758.9 403.1 L1760.5 404.3 L1762.1 405.5 L1763.7 406.7 L1765.3 407.9 L1766.9 409.0" fill="none" stroke="#0a9a48" stroke-width="5.5" stroke-linecap="round" stroke-dasharray="27.5 14.5"/>

<path d="M1020.4 315.9 L1022.4 315.9 L1024.4 315.9 L1026.4 316.0 L1028.4 316.0 L1030.4 316.0 L1032.4 316.0 L1034.4 316.0 L1036.4 316.0 L1038.4 316.0 L1040.4 316.0 L1042.4 316.0 L1044.4 316.0 L1046.4 316.0 L1048.5 316.0 L1050.5 316.0 L1052.5 316.0 L1054.5 315.9 L1056.5 315.9 L1058.5 315.9 L1060.5 315.8 L1062.5 315.8 L1064.5 315.8 L1066.5 315.7 L1068.5 315.7 L1070.5 315.6 L1072.5 315.6 L1074.5 315.5 L1076.5 315.4 L1078.5 315.4 L1080.5 315.3 L1082.5 315.2 L1084.5 315.2 L1086.5 315.1 L1088.5 315.0 L1090.5 314.9 L1092.5 314.9 L1094.5 314.8 L1096.5 314.7 L1098.6 314.6 L1100.6 314.5 L1102.6 314.4 L1104.6 314.3 L1106.6 314.2 L1108.6 314.1 L1110.6 314.0 L1112.6 313.9 L1114.6 313.8 L1116.6 313.7 L1118.6 313.6 L1120.6 313.5 L1122.6 313.4 L1124.6 313.3 L1126.6 313.2 L1128.6 313.0 L1130.6 312.9 L1132.6 312.8 L1134.6 312.7 L1136.6 312.5 L1138.6 312.4 L1140.6 312.3 L1142.6 312.2 L1144.6 312.0 L1146.6 311.9 L1148.6 311.8 L1150.6 311.6 L1152.6 311.5 L1154.6 311.4 L1156.6 311.2 L1158.6 311.1 L1160.6 311.0 L1162.6 310.8 L1164.6 310.7 L1166.6 310.6 L1168.6 310.4 L1170.6 310.3 L1172.6 310.1 L1174.6 310.0 L1176.6 309.8 L1178.6 309.7 L1180.6 309.6 L1182.6 309.4 L1184.6 309.3 L1186.6 309.1 L1188.6 309.0 L1190.6 308.8 L1192.6 308.7 L1194.6 308.5 L1196.6 308.3 L1198.6 308.2 L1200.6 308.0 L1202.6 307.8 L1204.6 307.6 L1206.6 307.5 L1208.6 307.3 L1210.6 307.1 L1212.6 306.9 L1214.6 306.7 L1216.6 306.5 L1218.5 306.2 L1220.5 306.0 L1222.5 305.8 L1224.5 305.5 L1226.5 305.3 L1228.5 305.0 L1230.5 304.7 L1232.5 304.5 L1234.4 304.2 L1236.4 303.9 L1238.4 303.6 L1240.4 303.2 L1242.4 302.9 L1244.3 302.6 L1246.3 302.2 L1248.3 301.8 L1250.3 301.5 L1252.2 301.1 L1254.2 300.7 L1256.2 300.3 L1258.1 299.8 L1260.1 299.4 L1262.0 299.0 L1264.0 298.5 L1265.9 298.0 L1267.9 297.5 L1269.8 297.0 L1271.7 296.5 L1273.7 296.0 L1275.6 295.5 L1277.5 294.9 L1279.5 294.3 L1281.4 293.8 L1283.3 293.2 L1285.2 292.6 L1287.1 291.9 L1289.0 291.3 L1290.9 290.6 L1292.8 290.0 L1294.7 289.3 L1296.6 288.6 L1298.4 287.9 L1300.3 287.2 L1302.2 286.4 L1304.0 285.7 L1305.9 284.9 L1307.7 284.1 L1309.6 283.3 L1311.4 282.5 L1313.2 281.7 L1315.0 280.8 L1316.8 279.9 L1318.6 279.1 L1320.4 278.2 L1322.2 277.2 L1324.0 276.3 L1325.8 275.4 L1327.5 274.4 L1329.3 273.4 L1331.0 272.4 L1332.7 271.4 L1334.4 270.3 L1336.1 269.3 L1337.8 268.2 L1339.5 267.1 L1341.2 266.0 L1342.9 264.9 L1344.5 263.8 L1346.1 262.6 L1347.8 261.4 L1349.4 260.2 L1351.0 259.0 L1352.6 257.8 L1354.1 256.5 L1355.7 255.3 L1357.2 254.0 L1358.7 252.7 L1360.3 251.4 L1361.8 250.0 L1363.2 248.7 L1364.7 247.3 L1366.2 245.9 L1367.6 244.5 L1369.0 243.1 L1370.4 241.7 L1371.8 240.3 L1373.2 238.8 L1374.5 237.3 L1375.9 235.9 L1377.2 234.4 L1378.6 232.9 L1379.9 231.4 L1381.2 229.9 L1382.6 228.4 L1383.9 226.8 L1385.2 225.3 L1386.5 223.8 L1387.8 222.3 L1389.1 220.8 L1390.4 219.3 L1391.7 217.7 L1393.1 216.2 L1394.4 214.7 L1395.7 213.2 L1397.1 211.7 L1398.4 210.3 L1399.8 208.8 L1401.1 207.3 L1402.5 205.9 L1403.9 204.4 L1405.3 203.0 L1406.8 201.6 L1408.2 200.2 L1409.7 198.8 L1411.2 197.5 L1412.7 196.2 L1414.2 194.9 L1415.7 193.6 L1417.3 192.3 L1418.9 191.1 L1420.5 189.9 L1422.1 188.8 L1423.8 187.7 L1425.5 186.6 L1427.2 185.5 L1428.9 184.5 L1430.7 183.6 L1432.5 182.7 L1434.3 181.8 L1436.1 181.0 L1438.0 180.2 L1439.8 179.4 L1441.7 178.7 L1443.6 178.0 L1445.5 177.3 L1447.4 176.7 L1449.3 176.1 L1451.2 175.5 L1453.1 175.0 L1455.1 174.5 L1457.0 174.0 L1459.0 173.5 L1460.9 173.0 L1462.9 172.6 L1464.8 172.2 L1466.8 171.8 L1468.8 171.4 L1470.7 171.0 L1472.7 170.7 L1474.7 170.3 L1476.7 170.0 L1478.6 169.7 L1480.6 169.4 L1482.6 169.1 L1484.6 168.8 L1486.6 168.5 L1488.5 168.2 L1490.5 167.9 L1492.5 167.6 L1494.5 167.4 L1496.5 167.1 L1498.5 166.8 L1500.5 166.6 L1502.5 166.3 L1504.4 166.0 L1506.4 165.8 L1508.4 165.5 L1510.4 165.2 L1512.4 165.0 L1514.4 164.7 L1516.4 164.5 L1518.4 164.2 L1520.4 164.0 L1522.3 163.7 L1524.3 163.5 L1526.3 163.3 L1528.3 163.0 L1530.3 162.8 L1532.3 162.6 L1534.3 162.3 L1536.3 162.1 L1538.3 161.9 L1540.3 161.6 L1542.3 161.4 L1544.2 161.2 L1546.2 161.0 L1548.2 160.8 L1550.2 160.6 L1552.2 160.3 L1554.2 160.1 L1556.2 159.9 L1558.2 159.7 L1560.2 159.5 L1562.2 159.3 L1564.2 159.1 L1566.2 158.9 L1568.2 158.7 L1570.2 158.6 L1572.2 158.4 L1574.2 158.2 L1576.2 158.0 L1578.2 157.8 L1580.2 157.6 L1582.2 157.5 L1584.2 157.3 L1586.2 157.1 L1588.2 157.0 L1590.1 156.8 L1592.1 156.6 L1594.1 156.5 L1596.1 156.3 L1598.1 156.2 L1600.1 156.0 L1602.1 155.9 L1604.1 155.7 L1606.1 155.6 L1608.1 155.4 L1610.1 155.3 L1612.1 155.1 L1614.1 155.0 L1616.1 154.9 L1618.1 154.7 L1620.1 154.6 L1622.1 154.5 L1624.1 154.4 L1626.1 154.2 L1628.1 154.1 L1630.1 154.0 L1632.2 153.9 L1634.2 153.8 L1636.2 153.6 L1638.2 153.5 L1640.2 153.4 L1642.2 153.3 L1644.2 153.2 L1646.2 153.1 L1648.2 153.0 L1650.2 152.9 L1652.2 152.8 L1654.2 152.7 L1656.2 152.5 L1658.2 152.4 L1660.2 152.3 L1662.2 152.2 L1664.2 152.1 L1666.2 152.0 L1668.2 151.9 L1670.2 151.8 L1672.2 151.7 L1674.2 151.5 L1676.2 151.4 L1678.2 151.3 L1680.2 151.2 L1682.2 151.1 L1684.2 150.9 L1686.2 150.8 L1688.2 150.7 L1690.2 150.6 L1692.2 150.4 L1694.2 150.3 L1696.2 150.2 L1698.2 150.0 L1700.2 149.9 L1702.2 149.7 L1704.2 149.6 L1706.2 149.4 L1708.2 149.3 L1710.2 149.1 L1712.2 149.0 L1714.2 148.8 L1716.2 148.6 L1718.2 148.4 L1720.2 148.3 L1722.2 148.1 L1724.2 147.9 L1726.2 147.7 L1728.2 147.5 L1730.2 147.3 L1732.2 147.1 L1734.1 146.9 L1736.1 146.7 L1738.1 146.4 L1740.1 146.2 L1742.1 146.0 L1744.1 145.7 L1746.1 145.5 L1748.1 145.2 L1750.1 145.0 L1752.1 144.7 L1754.0 144.4 L1756.0 144.1 L1758.0 143.8 L1760.0 143.6 L1762.0 143.3 L1764.0 142.9 L1765.9 142.6 L1767.9 142.3 L1769.9 142.0 L1771.9 141.6 L1773.8 141.3 L1775.8 140.9 L1777.8 140.6 L1779.8 140.2 L1781.7 139.8 L1783.7 139.4 L1785.7 139.0 L1787.6 138.6 L1789.6 138.1 L1791.5 137.6 L1793.4 137.1 L1795.4 136.5 L1797.3 135.9 L1799.2 135.3 L1801.1 134.6 L1802.9 133.9 L1804.8 133.1 L1806.6 132.3 L1808.4 131.4 L1810.2 130.4 L1811.9 129.4 L1813.6 128.4 L1815.3 127.2 L1816.9 126.1 L1818.5 124.8 L1820.0 123.5" fill="none" stroke="#2b2d8e" stroke-width="5.5" stroke-linecap="round" stroke-dasharray="12.5 11.5"/>
<path d="M1020.4 316.1 L1022.4 315.9 L1024.4 315.8 L1026.4 315.6 L1028.4 315.5 L1030.4 315.3 L1032.4 315.2 L1034.4 315.1 L1036.4 315.0 L1038.4 314.9 L1040.5 314.8 L1042.5 314.7 L1044.5 314.6 L1046.5 314.6 L1048.5 314.5 L1050.5 314.5 L1052.5 314.4 L1054.6 314.4 L1056.6 314.3 L1058.6 314.3 L1060.6 314.3 L1062.6 314.3 L1064.6 314.3 L1066.6 314.3 L1068.6 314.3 L1070.7 314.3 L1072.7 314.3 L1074.7 314.4 L1076.7 314.4 L1078.7 314.4 L1080.7 314.5 L1082.7 314.5 L1084.8 314.6 L1086.8 314.6 L1088.8 314.7 L1090.8 314.8 L1092.8 314.9 L1094.8 314.9 L1096.8 315.0 L1098.8 315.1 L1100.9 315.2 L1102.9 315.3 L1104.9 315.4 L1106.9 315.5 L1108.9 315.6 L1110.9 315.7 L1112.9 315.8 L1114.9 315.9 L1116.9 316.1 L1119.0 316.2 L1121.0 316.3 L1123.0 316.4 L1125.0 316.6 L1127.0 316.7 L1129.0 316.8 L1131.0 317.0 L1133.0 317.1 L1135.0 317.2 L1137.0 317.4 L1139.0 317.5 L1141.1 317.7 L1143.1 317.8 L1145.1 318.0 L1147.1 318.1 L1149.1 318.3 L1151.1 318.4 L1153.1 318.5 L1155.1 318.7 L1157.1 318.8 L1159.1 319.0 L1161.1 319.1 L1163.2 319.3 L1165.2 319.4 L1167.2 319.6 L1169.2 319.7 L1171.2 319.8 L1173.2 320.0 L1175.2 320.1 L1177.2 320.3 L1179.2 320.4 L1181.2 320.5 L1183.2 320.7 L1185.3 320.8 L1187.3 320.9 L1189.3 321.1 L1191.3 321.2 L1193.3 321.4 L1195.3 321.5 L1197.3 321.7 L1199.3 321.8 L1201.3 322.0 L1203.3 322.1 L1205.3 322.3 L1207.3 322.5 L1209.3 322.7 L1211.4 322.8 L1213.4 323.0 L1215.4 323.2 L1217.4 323.4 L1219.4 323.6 L1221.4 323.9 L1223.4 324.1 L1225.4 324.3 L1227.4 324.6 L1229.4 324.8 L1231.4 325.1 L1233.4 325.3 L1235.4 325.6 L1237.3 325.9 L1239.3 326.2 L1241.3 326.5 L1243.3 326.9 L1245.3 327.2 L1247.3 327.6 L1249.3 327.9 L1251.2 328.3 L1253.2 328.7 L1255.2 329.1 L1257.2 329.6 L1259.1 330.0 L1261.1 330.5 L1263.0 330.9 L1265.0 331.4 L1266.9 331.9 L1268.9 332.4 L1270.8 333.0 L1272.8 333.5 L1274.7 334.1 L1276.6 334.7 L1278.5 335.3 L1280.5 335.9 L1282.4 336.5 L1284.3 337.2 L1286.2 337.8 L1288.1 338.5 L1290.0 339.2 L1291.9 339.9 L1293.7 340.7 L1295.6 341.4 L1297.5 342.2 L1299.3 342.9 L1301.2 343.7 L1303.0 344.5 L1304.9 345.4 L1306.7 346.2 L1308.5 347.1 L1310.3 347.9 L1312.1 348.8 L1313.9 349.7 L1315.7 350.7 L1317.5 351.6 L1319.3 352.6 L1321.0 353.5 L1322.8 354.5 L1324.5 355.5 L1326.3 356.6 L1328.0 357.6 L1329.7 358.7 L1331.4 359.7 L1333.1 360.8 L1334.8 361.9 L1336.4 363.1 L1338.1 364.2 L1339.7 365.4 L1341.4 366.5 L1343.0 367.7 L1344.6 368.9 L1346.2 370.2 L1347.8 371.4 L1349.4 372.7 L1350.9 373.9 L1352.5 375.2 L1354.0 376.5 L1355.5 377.8 L1357.1 379.2 L1358.5 380.5 L1360.0 381.9 L1361.5 383.3 L1362.9 384.7 L1364.4 386.1 L1365.8 387.5 L1367.2 389.0 L1368.6 390.4 L1369.9 391.9 L1371.3 393.4 L1372.6 394.9 L1373.9 396.5 L1375.2 398.0 L1376.5 399.6 L1377.8 401.1 L1379.0 402.7 L1380.2 404.3 L1381.4 405.9 L1382.6 407.5 L1383.8 409.2 L1385.0 410.8 L1386.1 412.5 L1387.2 414.1 L1388.4 415.8 L1389.5 417.5 L1390.6 419.2 L1391.6 420.9 L1392.7 422.6 L1393.8 424.3 L1394.9 426.0 L1395.9 427.7 L1397.0 429.4 L1398.1 431.1 L1399.1 432.8 L1400.2 434.5 L1401.3 436.2 L1402.3 437.9 L1403.4 439.6 L1404.5 441.3 L1405.6 443.0 L1406.7 444.7 L1407.8 446.4 L1408.9 448.1 L1410.1 449.7 L1411.2 451.4 L1412.4 453.0 L1413.6 454.7 L1414.8 456.3 L1416.0 457.9 L1417.3 459.5 L1418.5 461.0 L1419.8 462.6 L1421.1 464.1 L1422.4 465.6 L1423.8 467.1 L1425.1 468.6 L1426.4 470.2 L1427.7 471.7 L1428.9 473.3 L1430.1 474.9 L1431.3 476.6 L1432.4 478.3 L1433.4 480.0 L1434.3 481.8 L1435.1 483.6" fill="none" stroke="#2b2d8e" stroke-width="5.5" stroke-linecap="round" stroke-dasharray="12.5 11.5"/>

<path d="M1049.0 205.0 L1051.0 204.9 L1053.0 204.8 L1055.1 204.7 L1057.1 204.6 L1059.1 204.4 L1061.1 204.3 L1063.1 204.3 L1065.1 204.2 L1067.1 204.1 L1069.1 204.0 L1071.1 203.9 L1073.1 203.8 L1075.1 203.7 L1077.1 203.6 L1079.1 203.5 L1081.1 203.5 L1083.1 203.4 L1085.2 203.3 L1087.2 203.2 L1089.2 203.2 L1091.2 203.1 L1093.2 203.0 L1095.2 202.9 L1097.2 202.9 L1099.2 202.8 L1101.2 202.7 L1103.2 202.7 L1105.2 202.6 L1107.2 202.5 L1109.2 202.4 L1111.2 202.4 L1113.3 202.3 L1115.3 202.2 L1117.3 202.1 L1119.3 202.1 L1121.3 202.0 L1123.3 201.9 L1125.3 201.8 L1127.3 201.7 L1129.3 201.6 L1131.3 201.6 L1133.3 201.5 L1135.3 201.4 L1137.3 201.3 L1139.3 201.2 L1141.3 201.1 L1143.4 201.0 L1145.4 200.9 L1147.4 200.8 L1149.4 200.6 L1151.4 200.5 L1153.4 200.4 L1155.4 200.3 L1157.4 200.2 L1159.4 200.0 L1161.4 199.9 L1163.4 199.7 L1165.4 199.6 L1167.4 199.5 L1169.4 199.3 L1171.4 199.1 L1173.4 199.0 L1175.4 198.8 L1177.4 198.6 L1179.4 198.5 L1181.4 198.3 L1183.4 198.1 L1185.4 197.9 L1187.4 197.7 L1189.4 197.5 L1191.4 197.3 L1193.4 197.0 L1195.4 196.8 L1197.4 196.6 L1199.4 196.3 L1201.4 196.1 L1203.4 195.8 L1205.4 195.6 L1207.4 195.3 L1209.3 195.0 L1211.3 194.7 L1213.3 194.4 L1215.3 194.1 L1217.3 193.8 L1219.3 193.5 L1221.3 193.2 L1223.2 192.8 L1225.2 192.5 L1227.2 192.2 L1229.2 191.8 L1231.1 191.5 L1233.1 191.1 L1235.1 190.7 L1237.1 190.3 L1239.0 189.9 L1241.0 189.6 L1243.0 189.2 L1244.9 188.8 L1246.9 188.3 L1248.9 187.9 L1250.8 187.5 L1252.8 187.1 L1254.8 186.7 L1256.7 186.2 L1258.7 185.8 L1260.6 185.3 L1262.6 184.9 L1264.6 184.4 L1266.5 184.0 L1268.5 183.5 L1270.4 183.1 L1272.4 182.6 L1274.3 182.1 L1276.3 181.6 L1278.2 181.2 L1280.2 180.7 L1282.1 180.2 L1284.1 179.7 L1286.0 179.2 L1288.0 178.7 L1289.9 178.2 L1291.9 177.7 L1293.8 177.2 L1295.7 176.7 L1297.7 176.2 L1299.6 175.7 L1301.6 175.2 L1303.5 174.7 L1305.5 174.2 L1307.4 173.7 L1309.4 173.2 L1311.3 172.7 L1313.2 172.2 L1315.2 171.7 L1317.1 171.2 L1319.1 170.7 L1321.0 170.2 L1323.0 169.7 L1324.9 169.3 L1326.9 168.8 L1328.9 168.3 L1330.8 167.9 L1332.8 167.4 L1334.7 167.0 L1336.7 166.6 L1338.7 166.2 L1340.6 165.8 L1342.6 165.3 L1344.6 165.0 L1346.5 164.6 L1348.5 164.2 L1350.5 163.8 L1352.4 163.4 L1354.4 163.1 L1356.4 162.7 L1358.4 162.4 L1360.4 162.0 L1362.3 161.7 L1364.3 161.3 L1366.3 161.0 L1368.3 160.7 L1370.3 160.4 L1372.3 160.1 L1374.2 159.8 L1376.2 159.5 L1378.2 159.2 L1380.2 158.9 L1382.2 158.7 L1384.2 158.4 L1386.2 158.1 L1388.2 157.9 L1390.2 157.6 L1392.2 157.4 L1394.1 157.1 L1396.1 156.9 L1398.1 156.6 L1400.1 156.4 L1402.1 156.2 L1404.1 156.0 L1406.1 155.8 L1408.1 155.6 L1410.1 155.4 L1412.1 155.2 L1414.1 155.0 L1416.1 154.8 L1418.1 154.6 L1420.1 154.4 L1422.1 154.2 L1424.1 154.1 L1426.1 153.9 L1428.1 153.7 L1430.1 153.6 L1432.1 153.4 L1434.1 153.2 L1436.1 153.1 L1438.1 152.9 L1440.1 152.8 L1442.1 152.7 L1444.1 152.5 L1446.1 152.4 L1448.1 152.3 L1450.2 152.1 L1452.2 152.0 L1454.2 151.9 L1456.2 151.8 L1458.2 151.7 L1460.2 151.5 L1462.2 151.4 L1464.2 151.3 L1466.2 151.2 L1468.2 151.1 L1470.2 151.0 L1472.2 150.9 L1474.2 150.8 L1476.2 150.7 L1478.2 150.6 L1480.2 150.5 L1482.2 150.5 L1484.3 150.4 L1486.3 150.3 L1488.3 150.2 L1490.3 150.1 L1492.3 150.0 L1494.3 149.9 L1496.3 149.9 L1498.3 149.8 L1500.3 149.7 L1502.3 149.6 L1504.3 149.5 L1506.3 149.5 L1508.3 149.4 L1510.3 149.3 L1512.3 149.2 L1514.4 149.2 L1516.4 149.1 L1518.4 149.0 L1520.4 148.9 L1522.4 148.8 L1524.4 148.8 L1526.4 148.7 L1528.4 148.6 L1530.4 148.5 L1532.4 148.4 L1534.4 148.4 L1536.4 148.3 L1538.4 148.2 L1540.4 148.1 L1542.5 148.0 L1544.5 147.9 L1546.5 147.8 L1548.5 147.8 L1550.5 147.7 L1552.5 147.6 L1554.5 147.5 L1556.5 147.4 L1558.5 147.3 L1560.5 147.2 L1562.5 147.1 L1564.5 147.0 L1566.5 146.9 L1568.5 146.7 L1570.5 146.6 L1572.5 146.5 L1574.5 146.4 L1576.6 146.3 L1578.6 146.1 L1580.6 146.0 L1582.6 145.9 L1584.6 145.7 L1586.6 145.6 L1588.6 145.5 L1590.6 145.3 L1592.6 145.2 L1594.6 145.0 L1596.6 144.8 L1598.6 144.7 L1600.6 144.5 L1602.6 144.3 L1604.6 144.2 L1606.6 144.0 L1608.6 143.8 L1610.6 143.6 L1612.6 143.4 L1614.6 143.2 L1616.6 143.0 L1618.6 142.8 L1620.6 142.6 L1622.6 142.4 L1624.6 142.2 L1626.6 141.9 L1628.6 141.7 L1630.6 141.5 L1632.6 141.2 L1634.6 141.0 L1636.5 140.7 L1638.5 140.5 L1640.5 140.2 L1642.5 140.0 L1644.5 139.7 L1646.5 139.4 L1648.5 139.2 L1650.5 138.9 L1652.5 138.6 L1654.5 138.4 L1656.5 138.1 L1658.4 137.8 L1660.4 137.5 L1662.4 137.2 L1664.4 136.9 L1666.4 136.7 L1668.4 136.4 L1670.4 136.1 L1672.4 135.8 L1674.3 135.5 L1676.3 135.2 L1678.3 134.9 L1680.3 134.6 L1682.3 134.3 L1684.3 134.0 L1686.3 133.7 L1688.3 133.5 L1690.2 133.2 L1692.2 132.9 L1694.2 132.6 L1696.2 132.3 L1698.2 132.0 L1700.2 131.7 L1702.2 131.4 L1704.2 131.2 L1706.1 130.9 L1708.1 130.6 L1710.1 130.3 L1712.1 130.0 L1714.1 129.8 L1716.1 129.5 L1718.1 129.2 L1720.1 129.0 L1722.1 128.7 L1724.1 128.5 L1726.1 128.2 L1728.0 127.9 L1730.0 127.7 L1732.0 127.4 L1734.0 127.2 L1736.0 126.9 L1738.0 126.7 L1740.0 126.4 L1742.0 126.2 L1744.0 125.9 L1746.0 125.6 L1748.0 125.4 L1750.0 125.1 L1751.9 124.8 L1753.9 124.6 L1755.9 124.3 L1757.9 124.0 L1759.9 123.7 L1761.9 123.4 L1763.9 123.1 L1765.8 122.7 L1767.8 122.4 L1769.8 122.1 L1771.8 121.7 L1773.8 121.3 L1775.7 121.0 L1777.7 120.6 L1779.7 120.2 L1781.6 119.8 L1783.6 119.4 L1785.6 118.9 L1787.5 118.5 L1789.5 118.0 L1791.4 117.5 L1793.4 117.0 L1795.3 116.5 L1797.3 116.0 L1799.2 115.4 L1801.1 114.9 L1803.0 114.3 L1805.0 113.7 L1806.9 113.1 L1808.8 112.4 L1810.7 111.8 L1812.6 111.1 L1814.4 110.4 L1816.3 109.7 L1818.2 109.0 L1820.0 108.2" fill="none" stroke="#e3262b" stroke-width="5.8" stroke-linecap="round" stroke-dasharray="0.1 11.8"/>
<path d="M1049.1 204.7 L1051.1 204.8 L1053.1 204.9 L1055.1 205.0 L1057.1 205.2 L1059.1 205.3 L1061.1 205.4 L1063.1 205.5 L1065.1 205.5 L1067.1 205.6 L1069.2 205.7 L1071.2 205.8 L1073.2 205.9 L1075.2 206.0 L1077.2 206.0 L1079.2 206.1 L1081.2 206.2 L1083.2 206.3 L1085.2 206.3 L1087.3 206.4 L1089.3 206.5 L1091.3 206.5 L1093.3 206.6 L1095.3 206.6 L1097.3 206.7 L1099.3 206.8 L1101.3 206.8 L1103.4 206.9 L1105.4 206.9 L1107.4 207.0 L1109.4 207.0 L1111.4 207.1 L1113.4 207.2 L1115.4 207.2 L1117.4 207.3 L1119.5 207.3 L1121.5 207.4 L1123.5 207.4 L1125.5 207.5 L1127.5 207.6 L1129.5 207.6 L1131.5 207.7 L1133.5 207.7 L1135.6 207.8 L1137.6 207.9 L1139.6 208.0 L1141.6 208.0 L1143.6 208.1 L1145.6 208.2 L1147.6 208.3 L1149.6 208.3 L1151.6 208.4 L1153.7 208.5 L1155.7 208.6 L1157.7 208.7 L1159.7 208.8 L1161.7 208.9 L1163.7 209.0 L1165.7 209.1 L1167.7 209.2 L1169.7 209.4 L1171.7 209.5 L1173.8 209.6 L1175.8 209.7 L1177.8 209.9 L1179.8 210.0 L1181.8 210.2 L1183.8 210.3 L1185.8 210.5 L1187.8 210.6 L1189.8 210.8 L1191.8 211.0 L1193.8 211.1 L1195.8 211.3 L1197.8 211.5 L1199.8 211.7 L1201.8 211.9 L1203.8 212.1 L1205.8 212.3 L1207.8 212.6 L1209.8 212.8 L1211.8 213.0 L1213.8 213.3 L1215.8 213.5 L1217.8 213.8 L1219.8 214.0 L1221.8 214.3 L1223.8 214.6 L1225.8 214.9 L1227.8 215.2 L1229.8 215.5 L1231.8 215.8 L1233.8 216.1 L1235.8 216.5 L1237.7 216.8 L1239.7 217.2 L1241.7 217.5 L1243.7 217.9 L1245.6 218.3 L1247.6 218.7 L1249.6 219.1 L1251.6 219.5 L1253.5 220.0 L1255.5 220.4 L1257.4 220.9 L1259.4 221.4 L1261.4 221.9 L1263.3 222.4 L1265.3 222.9 L1267.2 223.4 L1269.1 223.9 L1271.1 224.5 L1273.0 225.1 L1274.9 225.7 L1276.8 226.3 L1278.8 226.9 L1280.7 227.5 L1282.6 228.2 L1284.5 228.8 L1286.4 229.5 L1288.2 230.2 L1290.1 231.0 L1292.0 231.7 L1293.9 232.5 L1295.7 233.2 L1297.6 234.0 L1299.4 234.8 L1301.2 235.7 L1303.1 236.5 L1304.9 237.4 L1306.7 238.3 L1308.5 239.2 L1310.3 240.1 L1312.1 241.0 L1313.8 242.0 L1315.6 243.0 L1317.4 243.9 L1319.1 245.0 L1320.8 246.0 L1322.5 247.0 L1324.3 248.1 L1326.0 249.2 L1327.6 250.3 L1329.3 251.4 L1331.0 252.5 L1332.6 253.7 L1334.3 254.8 L1335.9 256.0 L1337.5 257.2 L1339.1 258.4 L1340.7 259.7 L1342.3 260.9 L1343.9 262.2 L1345.4 263.5 L1346.9 264.8 L1348.5 266.1 L1350.0 267.4 L1351.5 268.8 L1352.9 270.1 L1354.4 271.5 L1355.9 272.9 L1357.3 274.3 L1358.7 275.7 L1360.1 277.2 L1361.5 278.6 L1362.9 280.1 L1364.3 281.6 L1365.6 283.1 L1367.0 284.6 L1368.3 286.1 L1369.6 287.6 L1370.9 289.1 L1372.2 290.7 L1373.5 292.2 L1374.8 293.8 L1376.1 295.3 L1377.3 296.9 L1378.6 298.5 L1379.8 300.1 L1381.0 301.7 L1382.2 303.3 L1383.4 304.9 L1384.6 306.5 L1385.8 308.1 L1387.0 309.8 L1388.2 311.4 L1389.3 313.0 L1390.5 314.7 L1391.7 316.3 L1392.8 318.0 L1393.9 319.7 L1395.1 321.3 L1396.2 323.0 L1397.3 324.7 L1398.4 326.3 L1399.6 328.0 L1400.7 329.7 L1401.8 331.4 L1402.9 333.0 L1404.0 334.7 L1405.1 336.4 L1406.2 338.1 L1407.3 339.8 L1408.3 341.5 L1409.4 343.2 L1410.5 344.9 L1411.6 346.6 L1412.7 348.3 L1413.8 350.0 L1414.8 351.7 L1415.9 353.4 L1417.0 355.1 L1418.1 356.8 L1419.2 358.5 L1420.3 360.2 L1421.3 361.9 L1422.4 363.6 L1423.5 365.3 L1424.6 366.9 L1425.7 368.6 L1426.8 370.3 L1427.9 372.0 L1429.0 373.7 L1430.1 375.4 L1431.2 377.0 L1432.4 378.7 L1433.5 380.4 L1434.6 382.0 L1435.8 383.7 L1436.9 385.4 L1438.1 387.0 L1439.2 388.7 L1440.4 390.3 L1441.6 391.9 L1442.7 393.6" fill="none" stroke="#e3262b" stroke-width="5.8" stroke-linecap="round" stroke-dasharray="0.1 11.8"/>

<path d="M974.0 174.5 L976.0 174.5 L978.0 174.5 L980.0 174.5 L982.0 174.5 L984.0 174.4 L986.0 174.4 L988.0 174.4 L990.0 174.4 L992.1 174.4 L994.1 174.3 L996.1 174.3 L998.1 174.3 L1000.1 174.3 L1002.1 174.3 L1004.1 174.2 L1006.1 174.2 L1008.1 174.2 L1010.1 174.1 L1012.1 174.1 L1014.1 174.1 L1016.1 174.1 L1018.1 174.0 L1020.1 174.0 L1022.1 174.0 L1024.1 173.9 L1026.2 173.9 L1028.2 173.9 L1030.2 173.8 L1032.2 173.8 L1034.2 173.7 L1036.2 173.7 L1038.2 173.6 L1040.2 173.6 L1042.2 173.6 L1044.2 173.5 L1046.2 173.5 L1048.2 173.4 L1050.2 173.4 L1052.2 173.3 L1054.2 173.2 L1056.2 173.2 L1058.2 173.1 L1060.2 173.1 L1062.2 173.0 L1064.3 173.0 L1066.3 172.9 L1068.3 172.8 L1070.3 172.8 L1072.3 172.7 L1074.3 172.6 L1076.3 172.5 L1078.3 172.5 L1080.3 172.4 L1082.3 172.3 L1084.3 172.2 L1086.3 172.1 L1088.3 172.1 L1090.3 172.0 L1092.3 171.9 L1094.3 171.8 L1096.3 171.7 L1098.3 171.6 L1100.3 171.5 L1102.3 171.4 L1104.3 171.3 L1106.3 171.2 L1108.3 171.1 L1110.3 171.0 L1112.4 170.9 L1114.4 170.8 L1116.4 170.6 L1118.4 170.5 L1120.4 170.4 L1122.4 170.3 L1124.4 170.2 L1126.4 170.0 L1128.4 169.9 L1130.4 169.8 L1132.4 169.6 L1134.4 169.5 L1136.4 169.4 L1138.4 169.2 L1140.4 169.1 L1142.4 168.9 L1144.4 168.8 L1146.4 168.6 L1148.4 168.4 L1150.4 168.3 L1152.4 168.1 L1154.4 167.9 L1156.4 167.7 L1158.4 167.5 L1160.4 167.3 L1162.4 167.1 L1164.4 166.9 L1166.3 166.7 L1168.3 166.5 L1170.3 166.2 L1172.3 166.0 L1174.3 165.8 L1176.3 165.5 L1178.3 165.2 L1180.3 165.0 L1182.3 164.7 L1184.3 164.4 L1186.2 164.1 L1188.2 163.8 L1190.2 163.5 L1192.2 163.1 L1194.2 162.8 L1196.1 162.5 L1198.1 162.1 L1200.1 161.7 L1202.0 161.3 L1204.0 160.9 L1206.0 160.5 L1207.9 160.1 L1209.9 159.7 L1211.9 159.3 L1213.8 158.8 L1215.8 158.3 L1217.7 157.9 L1219.7 157.4 L1221.6 156.9 L1223.6 156.5 L1225.5 156.0 L1227.5 155.5 L1229.4 155.0 L1231.3 154.5 L1233.3 154.1 L1235.2 153.6 L1237.2 153.1 L1239.1 152.7 L1241.1 152.2 L1243.1 151.8 L1245.0 151.3 L1247.0 150.9 L1248.9 150.5 L1250.9 150.1 L1252.9 149.7 L1254.9 149.4 L1256.8 149.0 L1258.8 148.7 L1260.8 148.4 L1262.8 148.1 L1264.8 147.8 L1266.8 147.6 L1268.7 147.3 L1270.7 147.1 L1272.7 146.9 L1274.7 146.6 L1276.7 146.4 L1278.7 146.2 L1280.7 146.0 L1282.7 145.7 L1284.7 145.5 L1286.7 145.3 L1288.7 145.1 L1290.7 144.9 L1292.7 144.6 L1294.7 144.4 L1296.7 144.2 L1298.6 144.0 L1300.6 143.7 L1302.6 143.5 L1304.6 143.3 L1306.6 143.1 L1308.6 142.8 L1310.6 142.6 L1312.6 142.4 L1314.6 142.1 L1316.6 141.9 L1318.6 141.7 L1320.6 141.5 L1322.6 141.2 L1324.6 141.0 L1326.5 140.8 L1328.5 140.5 L1330.5 140.3 L1332.5 140.1 L1334.5 139.8 L1336.5 139.6 L1338.5 139.4 L1340.5 139.2 L1342.5 138.9 L1344.5 138.7 L1346.5 138.5 L1348.5 138.2 L1350.5 138.0 L1352.5 137.8 L1354.4 137.5 L1356.4 137.3 L1358.4 137.1 L1360.4 136.9 L1362.4 136.6 L1364.4 136.4 L1366.4 136.2 L1368.4 136.0 L1370.4 135.7 L1372.4 135.5 L1374.4 135.3 L1376.4 135.1 L1378.4 134.9 L1380.4 134.6 L1382.4 134.4 L1384.3 134.2 L1386.3 134.0 L1388.3 133.8 L1390.3 133.6 L1392.3 133.3 L1394.3 133.1 L1396.3 132.9 L1398.3 132.7 L1400.3 132.5 L1402.3 132.3 L1404.3 132.1 L1406.3 131.9 L1408.3 131.7 L1410.3 131.5 L1412.3 131.3 L1414.3 131.1 L1416.3 130.9 L1418.3 130.7 L1420.3 130.5 L1422.3 130.3 L1424.3 130.2 L1426.3 130.0 L1428.3 129.8 L1430.3 129.6 L1432.3 129.4 L1434.2 129.2 L1436.2 129.1 L1438.2 128.9 L1440.2 128.7 L1442.2 128.6 L1444.2 128.4 L1446.2 128.2 L1448.2 128.1 L1450.2 127.9 L1452.2 127.7 L1454.2 127.6 L1456.2 127.4 L1458.2 127.3 L1460.2 127.1 L1462.2 126.9 L1464.2 126.8 L1466.2 126.6 L1468.2 126.5 L1470.2 126.3 L1472.2 126.2 L1474.2 126.1 L1476.2 125.9 L1478.2 125.8 L1480.2 125.6 L1482.2 125.5 L1484.2 125.3 L1486.2 125.2 L1488.2 125.1 L1490.2 124.9 L1492.3 124.8 L1494.3 124.7 L1496.3 124.5 L1498.3 124.4 L1500.3 124.3 L1502.3 124.1 L1504.3 124.0 L1506.3 123.9 L1508.3 123.8 L1510.3 123.6 L1512.3 123.5 L1514.3 123.4 L1516.3 123.3 L1518.3 123.2 L1520.3 123.0 L1522.3 122.9 L1524.3 122.8 L1526.3 122.7 L1528.3 122.6 L1530.3 122.4 L1532.3 122.3 L1534.3 122.2 L1536.3 122.1 L1538.3 122.0 L1540.3 121.9 L1542.3 121.8 L1544.3 121.6 L1546.3 121.5 L1548.3 121.4 L1550.3 121.3 L1552.3 121.2 L1554.3 121.1 L1556.3 121.0 L1558.3 120.9 L1560.3 120.7 L1562.3 120.6 L1564.3 120.5 L1566.3 120.4 L1568.3 120.3 L1570.3 120.2 L1572.4 120.1 L1574.4 120.0 L1576.4 119.9 L1578.4 119.8 L1580.4 119.7 L1582.4 119.5 L1584.4 119.4 L1586.4 119.3 L1588.4 119.2 L1590.4 119.1 L1592.4 119.0 L1594.4 118.9 L1596.4 118.8 L1598.4 118.7 L1600.4 118.6 L1602.4 118.4 L1604.4 118.3 L1606.4 118.2 L1608.4 118.1 L1610.4 118.0 L1612.4 117.9 L1614.4 117.8 L1616.4 117.7 L1618.4 117.6 L1620.4 117.4 L1622.4 117.3 L1624.4 117.2 L1626.4 117.1 L1628.4 117.0 L1630.4 116.9 L1632.4 116.7 L1634.4 116.6 L1636.4 116.5 L1638.4 116.4 L1640.4 116.3 L1642.4 116.1 L1644.4 116.0 L1646.5 115.9 L1648.5 115.8 L1650.5 115.6 L1652.5 115.5 L1654.5 115.4 L1656.5 115.3 L1658.5 115.1 L1660.5 115.0 L1662.5 114.9 L1664.5 114.7 L1666.5 114.6 L1668.5 114.5 L1670.5 114.3 L1672.5 114.2 L1674.5 114.1 L1676.5 113.9 L1678.5 113.8 L1680.5 113.7 L1682.5 113.5 L1684.5 113.4 L1686.5 113.2 L1688.5 113.1 L1690.5 112.9 L1692.5 112.8 L1694.5 112.6 L1696.5 112.5 L1698.5 112.3 L1700.5 112.2 L1702.5 112.0 L1704.5 111.9 L1706.5 111.7 L1708.5 111.5 L1710.5 111.4 L1712.5 111.2 L1714.5 111.0 L1716.5 110.9 L1718.5 110.7 L1720.5 110.5 L1722.5 110.3 L1724.5 110.2 L1726.5 110.0 L1728.5 109.8 L1730.5 109.6 L1732.5 109.5 L1734.5 109.3 L1736.5 109.1 L1738.5 108.9 L1740.5 108.7 L1742.4 108.5 L1744.4 108.3 L1746.4 108.1 L1748.4 107.9 L1750.4 107.7 L1752.4 107.5 L1754.4 107.3 L1756.4 107.1 L1758.4 106.9 L1760.4 106.7 L1762.4 106.5 L1764.4 106.2 L1766.4 106.0 L1768.4 105.8 L1770.4 105.6 L1772.4 105.3 L1774.4 105.1 L1776.4 104.9 L1778.3 104.6 L1780.3 104.4 L1782.3 104.2 L1784.3 103.9 L1786.3 103.7 L1788.3 103.4 L1790.3 103.2 L1792.3 102.9 L1794.3 102.7 L1796.3 102.4 L1798.3 102.1 L1800.2 101.9 L1802.2 101.6 L1804.2 101.3 L1806.2 101.1 L1808.2 100.8 L1810.2 100.5 L1812.2 100.2 L1814.1 99.9 L1816.1 99.7 L1818.1 99.4 L1820.1 99.1" fill="none" stroke="#e0107f" stroke-width="5" stroke-linecap="round" stroke-dasharray="18.5 9 1 9 0.1 10.4"/>
<path d="M974.0 174.4 L976.0 174.4 L978.0 174.4 L980.0 174.4 L982.0 174.4 L984.0 174.4 L986.1 174.4 L988.1 174.4 L990.1 174.4 L992.1 174.4 L994.1 174.4 L996.1 174.4 L998.1 174.4 L1000.1 174.4 L1002.1 174.4 L1004.2 174.4 L1006.2 174.4 L1008.2 174.4 L1010.2 174.4 L1012.2 174.4 L1014.2 174.4 L1016.2 174.4 L1018.2 174.4 L1020.2 174.4 L1022.3 174.4 L1024.3 174.4 L1026.3 174.4 L1028.3 174.4 L1030.3 174.4 L1032.3 174.4 L1034.3 174.4 L1036.3 174.5 L1038.3 174.5 L1040.3 174.5 L1042.4 174.5 L1044.4 174.5 L1046.4 174.6 L1048.4 174.6 L1050.4 174.6 L1052.4 174.6 L1054.4 174.7 L1056.4 174.7 L1058.4 174.7 L1060.5 174.7 L1062.5 174.8 L1064.5 174.8 L1066.5 174.9 L1068.5 174.9 L1070.5 174.9 L1072.5 175.0 L1074.5 175.0 L1076.5 175.1 L1078.5 175.1 L1080.6 175.2 L1082.6 175.2 L1084.6 175.3 L1086.6 175.4 L1088.6 175.4 L1090.6 175.5 L1092.6 175.5 L1094.6 175.6 L1096.6 175.7 L1098.6 175.8 L1100.7 175.8 L1102.7 175.9 L1104.7 176.0 L1106.7 176.1 L1108.7 176.2 L1110.7 176.3 L1112.7 176.3 L1114.7 176.4 L1116.7 176.5 L1118.7 176.6 L1120.7 176.7 L1122.7 176.8 L1124.8 177.0 L1126.8 177.1 L1128.8 177.2 L1130.8 177.3 L1132.8 177.4 L1134.8 177.6 L1136.8 177.7 L1138.8 177.8 L1140.8 177.9 L1142.8 178.1 L1144.8 178.2 L1146.8 178.4 L1148.8 178.5 L1150.8 178.7 L1152.8 178.8 L1154.8 179.0 L1156.9 179.1 L1158.9 179.3 L1160.9 179.5 L1162.9 179.7 L1164.9 179.8 L1166.9 180.0 L1168.9 180.2 L1170.9 180.4 L1172.9 180.6 L1174.9 180.8 L1176.9 181.0 L1178.9 181.2 L1180.9 181.4 L1182.9 181.6 L1184.9 181.8 L1186.9 182.0 L1188.9 182.3 L1190.9 182.5 L1192.9 182.7 L1194.9 183.0 L1196.9 183.2 L1198.9 183.4 L1200.9 183.7 L1202.8 183.9 L1204.8 184.2 L1206.8 184.5 L1208.8 184.7 L1210.8 185.0 L1212.8 185.3 L1214.8 185.6 L1216.8 185.9 L1218.8 186.2 L1220.8 186.5 L1222.7 186.8 L1224.7 187.1 L1226.7 187.4 L1228.7 187.8 L1230.7 188.1 L1232.7 188.5 L1234.6 188.8 L1236.6 189.2 L1238.6 189.6 L1240.6 190.0 L1242.5 190.4 L1244.5 190.8 L1246.5 191.2 L1248.4 191.6 L1250.4 192.1 L1252.4 192.5 L1254.3 193.0 L1256.3 193.4 L1258.2 193.9 L1260.2 194.4 L1262.1 194.9 L1264.1 195.4 L1266.0 196.0 L1267.9 196.5 L1269.9 197.1 L1271.8 197.6 L1273.7 198.2 L1275.6 198.8 L1277.6 199.4 L1279.5 200.1 L1281.4 200.7 L1283.3 201.3 L1285.2 202.0 L1287.1 202.7 L1288.9 203.4 L1290.8 204.1 L1292.7 204.8 L1294.6 205.6 L1296.4 206.4 L1298.3 207.1 L1300.1 207.9 L1302.0 208.7 L1303.8 209.5 L1305.7 210.4 L1307.5 211.2 L1309.3 212.0 L1311.1 212.9 L1312.9 213.8 L1314.7 214.7 L1316.5 215.6 L1318.3 216.5 L1320.1 217.4 L1321.9 218.3 L1323.7 219.3 L1325.4 220.2 L1327.2 221.2 L1329.0 222.1 L1330.7 223.1 L1332.5 224.1 L1334.2 225.1 L1336.0 226.1 L1337.7 227.1 L1339.4 228.2 L1341.2 229.2 L1342.9 230.2 L1344.6 231.3 L1346.3 232.3 L1348.0 233.4 L1349.7 234.4 L1351.4 235.5 L1353.1 236.6 L1354.8 237.7 L1356.5 238.8 L1358.2 239.9 L1359.9 241.0 L1361.6 242.1 L1363.2 243.2 L1364.9 244.3 L1366.6 245.4 L1368.2 246.5 L1369.9 247.7 L1371.6 248.8 L1373.2 249.9 L1374.9 251.1 L1376.5 252.2 L1378.2 253.4 L1379.8 254.5 L1381.5 255.7 L1383.1 256.8 L1384.8 258.0 L1386.4 259.2 L1388.0 260.3 L1389.7 261.5 L1391.3 262.7 L1392.9 263.9 L1394.6 265.0 L1396.2 266.2 L1397.8 267.4 L1399.5 268.6 L1401.1 269.8 L1402.7 270.9 L1404.3 272.1 L1405.9 273.3 L1407.6 274.5 L1409.2 275.7 L1410.8 276.9 L1412.4 278.1 L1414.0 279.3 L1415.7 280.5 L1417.3 281.7 L1418.9 282.9 L1420.5 284.1 L1422.1 285.3 L1423.7 286.5 L1425.3 287.7 L1427.0 288.9 L1428.6 290.1 L1430.2 291.3 L1431.8 292.5 L1433.4 293.7 L1435.0 294.9 L1436.6 296.1 L1438.3 297.3 L1439.9 298.5 L1441.5 299.7 L1443.1 300.9 L1444.7 302.0 L1446.3 303.2 L1448.0 304.4 L1449.6 305.6 L1451.2 306.8 L1452.8 308.0 L1454.4 309.2 L1456.1 310.4 L1457.7 311.5 L1459.3 312.7 L1461.0 313.9 L1462.6 315.1 L1464.2 316.3 L1465.9 317.4 L1467.5 318.6 L1469.1 319.8 L1470.8 320.9 L1472.4 322.1 L1474.1 323.2 L1475.7 324.4 L1477.4 325.5 L1479.0 326.7 L1480.7 327.8 L1482.3 329.0 L1484.0 330.1 L1485.6 331.2 L1487.3 332.4 L1489.0 333.5 L1490.6 334.6 L1492.3 335.7 L1494.0 336.8 L1495.7 338.0 L1497.3 339.1 L1499.0 340.2 L1500.7 341.3 L1502.4 342.4 L1504.1 343.5 L1505.8 344.6 L1507.4 345.7 L1509.1 346.7 L1510.8 347.8 L1512.5 348.9 L1514.2 350.0 L1515.9 351.1 L1517.6 352.1 L1519.3 353.2 L1521.0 354.3 L1522.7 355.3 L1524.4 356.4 L1526.1 357.5 L1527.9 358.5 L1529.6 359.6 L1531.3 360.6" fill="none" stroke="#e0107f" stroke-width="5" stroke-linecap="round" stroke-dasharray="18.5 9 1 9 0.1 10.4"/>

<path d="M1073.0 268.0 L1075.0 267.8 L1077.0 267.6 L1079.0 267.4 L1081.0 267.3 L1083.0 267.2 L1085.0 267.1 L1087.0 267.0 L1089.0 267.0 L1091.1 267.0 L1093.1 266.9 L1095.1 266.9 L1097.1 267.0 L1099.1 267.0 L1101.1 267.0 L1103.1 267.1 L1105.1 267.1 L1107.1 267.2 L1109.1 267.3 L1111.2 267.4 L1113.2 267.4 L1115.2 267.5 L1117.2 267.6 L1119.2 267.7 L1121.2 267.8 L1123.2 267.9 L1125.2 268.0 L1127.2 268.1 L1129.2 268.2 L1131.2 268.3 L1133.2 268.3 L1135.3 268.4 L1137.3 268.5 L1139.3 268.5 L1141.3 268.6 L1143.3 268.6 L1145.3 268.6 L1147.3 268.6 L1149.3 268.6 L1151.3 268.6 L1153.3 268.5 L1155.3 268.5 L1157.4 268.4 L1159.4 268.3 L1161.4 268.2 L1163.4 268.0 L1165.4 267.8 L1167.4 267.7 L1169.4 267.4 L1171.4 267.2 L1173.4 266.9 L1175.4 266.6 L1177.3 266.3 L1179.3 265.9 L1181.3 265.5 L1183.3 265.1 L1185.2 264.7 L1187.2 264.3 L1189.2 263.9 L1191.1 263.5 L1193.1 263.0 L1195.1 262.6 L1197.0 262.2 L1199.0 261.8 L1201.0 261.4 L1202.9 261.0 L1204.9 260.6 L1206.9 260.2 L1208.8 259.8 L1210.8 259.5 L1212.8 259.1 L1214.8 258.7 L1216.8 258.4 L1218.7 258.0 L1220.7 257.7 L1222.7 257.3 L1224.7 257.0 L1226.7 256.6 L1228.6 256.3 L1230.6 255.9 L1232.6 255.6 L1234.6 255.3 L1236.6 254.9 L1238.5 254.6 L1240.5 254.2 L1242.5 253.9 L1244.5 253.5 L1246.5 253.2 L1248.4 252.8 L1250.4 252.5 L1252.4 252.1 L1254.4 251.8 L1256.4 251.4 L1258.3 251.1 L1260.3 250.8 L1262.3 250.4 L1264.3 250.1 L1266.3 249.8 L1268.3 249.4 L1270.2 249.1 L1272.2 248.8 L1274.2 248.5 L1276.2 248.2 L1278.2 247.9 L1280.2 247.7 L1282.2 247.4 L1284.2 247.1 L1286.2 246.9 L1288.2 246.7 L1290.2 246.4 L1292.2 246.2 L1294.2 246.0 L1296.2 245.8 L1298.2 245.7 L1300.2 245.5 L1302.2 245.3 L1304.2 245.2 L1306.2 245.1 L1308.2 245.0 L1310.2 244.8 L1312.2 244.7 L1314.2 244.6 L1316.2 244.4 L1318.2 244.3 L1320.2 244.1 L1322.2 243.9 L1324.2 243.7 L1326.2 243.5 L1328.2 243.2 L1330.2 242.9 L1332.2 242.6 L1334.2 242.2 L1336.1 241.8 L1338.1 241.3 L1340.0 240.8 L1342.0 240.3 L1343.9 239.7 L1345.8 239.1 L1347.7 238.4 L1349.6 237.7 L1351.4 237.0 L1353.3 236.2 L1355.2 235.4 L1357.0 234.7 L1358.9 233.9 L1360.7 233.1 L1362.6 232.3 L1364.4 231.5 L1366.3 230.7 L1368.1 229.9 L1370.0 229.2 L1371.9 228.5 L1373.7 227.8 L1375.6 227.1 L1377.6 226.5 L1379.5 225.9 L1381.4 225.4 L1383.4 224.9 L1385.3 224.4 L1387.3 224.0 L1389.3 223.6 L1391.2 223.3 L1393.2 222.9 L1395.2 222.6 L1397.2 222.3 L1399.2 222.0 L1401.2 221.7 L1403.2 221.4 L1405.1 221.1 L1407.1 220.8 L1409.1 220.4 L1411.1 220.1 L1413.1 219.8 L1415.1 219.5 L1417.0 219.1 L1419.0 218.8 L1421.0 218.4 L1423.0 218.1 L1425.0 217.7 L1426.9 217.4 L1428.9 217.0 L1430.9 216.6 L1432.9 216.3 L1434.8 215.9 L1436.8 215.5 L1438.8 215.2 L1440.8 214.8 L1442.7 214.4 L1444.7 214.0 L1446.7 213.6 L1448.7 213.3 L1450.6 212.9 L1452.6 212.5 L1454.6 212.1 L1456.6 211.7 L1458.5 211.4 L1460.5 211.0 L1462.5 210.6 L1464.5 210.2 L1466.4 209.8 L1468.4 209.5 L1470.4 209.1 L1472.4 208.7 L1474.3 208.3 L1476.3 207.9 L1478.3 207.6 L1480.3 207.2 L1482.2 206.8 L1484.2 206.5 L1486.2 206.1 L1488.2 205.7 L1490.1 205.4 L1492.1 205.0 L1494.1 204.7 L1496.1 204.3 L1498.1 203.9 L1500.0 203.6 L1502.0 203.2 L1504.0 202.9 L1506.0 202.5 L1507.9 202.2 L1509.9 201.8 L1511.9 201.5 L1513.9 201.1 L1515.9 200.8 L1517.8 200.4 L1519.8 200.1 L1521.8 199.7 L1523.8 199.4 L1525.8 199.0 L1527.7 198.7 L1529.7 198.3 L1531.7 198.0 L1533.7 197.6 L1535.7 197.2 L1537.6 196.9 L1539.6 196.5 L1541.6 196.2 L1543.6 195.8 L1545.5 195.4 L1547.5 195.1 L1549.5 194.7 L1551.5 194.4 L1553.5 194.0 L1555.4 193.6 L1557.4 193.2 L1559.4 192.9 L1561.4 192.5 L1563.3 192.1 L1565.3 191.7 L1567.3 191.3 L1569.2 191.0 L1571.2 190.6 L1573.2 190.2 L1575.2 189.8 L1577.1 189.4 L1579.1 189.0 L1581.1 188.6 L1583.0 188.2 L1585.0 187.8 L1587.0 187.4 L1589.0 187.0 L1590.9 186.6 L1592.9 186.2 L1594.9 185.8 L1596.8 185.4 L1598.8 185.0 L1600.8 184.6 L1602.7 184.1 L1604.7 183.7 L1606.7 183.3 L1608.6 182.9 L1610.6 182.5 L1612.6 182.1 L1614.5 181.6 L1616.5 181.2 L1618.5 180.8 L1620.4 180.4 L1622.4 180.0 L1624.4 179.5 L1626.3 179.1 L1628.3 178.7 L1630.3 178.3 L1632.2 177.9 L1634.2 177.4 L1636.2 177.0 L1638.1 176.6 L1640.1 176.2 L1642.1 175.7 L1644.0 175.3 L1646.0 174.9 L1647.9 174.5 L1649.9 174.0 L1651.9 173.6 L1653.8 173.2 L1655.8 172.8 L1657.8 172.4 L1659.7 171.9 L1661.7 171.5 L1663.7 171.1 L1665.6 170.7 L1667.6 170.2 L1669.6 169.8 L1671.5 169.4 L1673.5 169.0 L1675.5 168.6 L1677.4 168.2 L1679.4 167.7 L1681.4 167.3 L1683.3 166.9 L1685.3 166.5 L1687.3 166.1 L1689.2 165.7 L1691.2 165.3 L1693.2 164.9 L1695.1 164.5 L1697.1 164.1 L1699.1 163.7 L1701.1 163.3 L1703.0 162.9 L1705.0 162.5 L1707.0 162.1 L1708.9 161.7 L1710.9 161.3 L1712.9 160.9 L1714.9 160.5 L1716.8 160.1 L1718.8 159.7 L1720.8 159.3 L1722.7 158.9 L1724.7 158.5 L1726.7 158.2 L1728.7 157.8 L1730.6 157.4 L1732.6 157.0 L1734.6 156.6 L1736.5 156.2 L1738.5 155.8 L1740.5 155.4 L1742.4 154.9 L1744.4 154.5 L1746.4 154.1 L1748.3 153.7 L1750.3 153.3 L1752.3 152.9 L1754.2 152.4 L1756.2 152.0 L1758.2 151.6 L1760.1 151.1 L1762.1 150.7 L1764.1 150.3 L1766.0 149.8 L1768.0 149.3 L1769.9 148.9 L1771.9 148.4 L1773.8 147.9 L1775.8 147.5 L1777.7 147.0 L1779.7 146.5 L1781.6 146.0 L1783.6 145.5 L1785.5 145.0 L1787.5 144.5 L1789.4 143.9 L1791.3 143.4 L1793.3 142.9 L1795.2 142.3 L1797.2 141.8 L1799.1 141.2 L1801.0 140.6 L1802.9 140.1 L1804.9 139.5 L1806.8 138.9 L1808.7 138.3 L1810.6 137.7 L1812.5 137.1 L1814.4 136.4 L1816.3 135.8 L1818.2 135.1 L1820.1 134.5" fill="none" stroke="#111111" stroke-width="5.2" stroke-linecap="round"/>
<path d="M1073.0 268.0 L1075.0 268.0 L1077.0 268.0 L1079.0 268.0 L1081.0 268.0 L1083.1 268.0 L1085.1 268.0 L1087.1 268.0 L1089.1 267.9 L1091.1 267.9 L1093.1 267.9 L1095.1 267.9 L1097.1 267.9 L1099.1 267.9 L1101.1 267.9 L1103.2 267.8 L1105.2 267.8 L1107.2 267.8 L1109.2 267.8 L1111.2 267.8 L1113.2 267.8 L1115.2 267.8 L1117.2 267.8 L1119.2 267.8 L1121.3 267.8 L1123.3 267.8 L1125.3 267.8 L1127.3 267.8 L1129.3 267.8 L1131.3 267.8 L1133.3 267.9 L1135.3 267.9 L1137.3 267.9 L1139.3 268.0 L1141.4 268.0 L1143.4 268.0 L1145.4 268.1 L1147.4 268.1 L1149.4 268.2 L1151.4 268.2 L1153.4 268.3 L1155.4 268.4 L1157.4 268.5 L1159.4 268.6 L1161.5 268.6 L1163.5 268.7 L1165.5 268.8 L1167.5 269.0 L1169.5 269.1 L1171.5 269.2 L1173.5 269.3 L1175.5 269.5 L1177.5 269.6 L1179.5 269.8 L1181.5 270.0 L1183.5 270.1 L1185.5 270.3 L1187.5 270.5 L1189.5 270.7 L1191.5 270.9 L1193.5 271.1 L1195.5 271.2 L1197.5 271.5 L1199.5 271.7 L1201.5 271.9 L1203.5 272.1 L1205.5 272.3 L1207.5 272.5 L1209.5 272.7 L1211.5 272.9 L1213.5 273.2 L1215.5 273.4 L1217.5 273.6 L1219.5 273.8 L1221.5 274.0 L1223.5 274.3 L1225.5 274.5 L1227.5 274.7 L1229.5 274.9 L1231.5 275.1 L1233.5 275.3 L1235.5 275.6 L1237.5 275.8 L1239.5 276.0 L1241.5 276.2 L1243.5 276.3 L1245.5 276.5 L1247.5 276.7 L1249.5 276.9 L1251.5 277.1 L1253.5 277.3 L1255.5 277.5 L1257.5 277.7 L1259.5 277.9 L1261.5 278.0 L1263.5 278.2 L1265.5 278.4 L1267.5 278.7 L1269.5 278.9 L1271.5 279.1 L1273.5 279.3 L1275.5 279.5 L1277.5 279.8 L1279.5 280.0 L1281.5 280.3 L1283.5 280.6 L1285.5 280.9 L1287.5 281.1 L1289.5 281.5 L1291.4 281.8 L1293.4 282.1 L1295.4 282.5 L1297.4 282.8 L1299.4 283.2 L1301.3 283.6 L1303.3 284.0 L1305.3 284.5 L1307.2 284.9 L1309.2 285.4 L1311.1 285.9 L1313.1 286.4 L1315.0 286.9 L1316.9 287.5 L1318.9 288.0 L1320.8 288.6 L1322.7 289.2 L1324.6 289.9 L1326.5 290.5 L1328.4 291.1 L1330.3 291.8 L1332.2 292.5 L1334.1 293.2 L1336.0 293.9 L1337.8 294.7 L1339.7 295.4 L1341.6 296.2 L1343.4 297.0 L1345.3 297.8 L1347.1 298.6 L1348.9 299.5 L1350.7 300.3 L1352.6 301.2 L1354.4 302.0 L1356.2 302.9 L1358.0 303.8 L1359.7 304.8 L1361.5 305.7 L1363.3 306.7 L1365.1 307.6 L1366.8 308.6 L1368.6 309.6 L1370.3 310.6 L1372.0 311.6 L1373.8 312.7 L1375.5 313.7 L1377.2 314.8 L1378.9 315.9 L1380.6 316.9 L1382.2 318.1 L1383.9 319.2 L1385.6 320.3 L1387.2 321.5 L1388.9 322.6 L1390.5 323.8 L1392.1 325.0 L1393.7 326.2 L1395.3 327.4 L1396.9 328.6 L1398.5 329.9 L1400.1 331.1 L1401.6 332.4 L1403.2 333.7 L1404.7 335.0 L1406.2 336.3 L1407.7 337.6 L1409.3 339.0 L1410.7 340.3 L1412.2 341.7 L1413.7 343.0 L1415.1 344.4 L1416.6 345.8 L1418.0 347.2 L1419.4 348.7 L1420.8 350.1 L1422.2 351.6 L1423.6 353.0 L1425.0 354.5 L1426.3 356.0 L1427.7 357.5 L1429.0 359.0 L1430.3 360.5 L1431.6 362.0 L1432.9 363.6 L1434.2 365.1 L1435.5 366.7 L1436.8 368.2 L1438.0 369.8 L1439.3 371.4 L1440.5 372.9 L1441.8 374.5 L1443.0 376.1 L1444.2 377.7 L1445.4 379.3 L1446.6 380.9 L1447.8 382.5 L1449.0 384.2 L1450.2 385.8 L1451.4 387.4 L1452.6 389.0 L1453.7 390.7 L1454.9 392.3 L1456.1 394.0 L1457.2 395.6 L1458.4 397.2 L1459.5 398.9 L1460.7 400.5 L1461.8 402.2 L1463.0 403.8 L1464.1 405.5 L1465.3 407.1 L1466.5 408.8 L1467.6 410.4 L1468.8 412.0 L1470.0 413.6 L1471.2 415.3 L1472.4 416.9 L1473.6 418.4 L1474.9 420.0 L1476.2 421.6 L1477.5 423.1 L1478.8 424.6 L1480.1 426.1 L1481.5 427.6 L1482.9 429.1 L1484.3 430.5 L1485.8 431.9 L1487.2 433.2 L1488.8 434.5 L1490.3 435.8 L1491.9 437.0 L1493.5 438.2 L1495.2 439.4 L1496.9 440.4 L1498.6 441.4 L1500.4 442.4 L1502.2 443.2 L1504.1 444.0 L1506.0 444.7 L1507.9 445.4" fill="none" stroke="#111111" stroke-width="5.2" stroke-linecap="round"/>

<line x1="907.0" y1="432.2" x2="1037.0" y2="432.2" stroke="#111111" stroke-width="6.0" stroke-linecap="butt"/>
<text x="1047.8" y="441.2" class="leg">NaCl</text>
<line x1="909.5" y1="470.3" x2="1024.5" y2="470.3" stroke="#e0107f" stroke-width="5.8" stroke-linecap="round" stroke-dasharray="18.5 9 1 9 0.1 10.4"/>
<text x="1047.8" y="478.2" class="leg">Ce(NO<tspan class="sub" dy="8.5">3</tspan><tspan dy="-8.5">)</tspan><tspan class="sub" dy="8.5">3</tspan></text>
<line x1="909.9" y1="513.0" x2="1031.1" y2="513.0" stroke="#e3262b" stroke-width="6.6" stroke-linecap="round" stroke-dasharray="0.1 11.8"/>
<text x="1047.8" y="520.2" class="leg">CeCl<tspan class="sub" dy="8.5">3</tspan></text>
<line x1="909.8" y1="554.0" x2="1034.2" y2="554.0" stroke="#2b2d8e" stroke-width="6.3" stroke-linecap="round" stroke-dasharray="12.5 11.5"/>
<text x="1047.8" y="560.6" class="leg">Ce(Ac)<tspan class="sub" dy="8.5">3</tspan></text>
<line x1="909.8" y1="596.2" x2="1024.2" y2="596.2" stroke="#0a9a48" stroke-width="6.3" stroke-linecap="round" stroke-dasharray="27.5 14.5"/>
<text x="1047.8" y="602.2" class="leg">Ce(SO<tspan class="sub" dy="8.5">4</tspan><tspan dy="-8.5">)</tspan><tspan class="sub" dy="8.5">2</tspan></text>
</svg>
</body></html>
